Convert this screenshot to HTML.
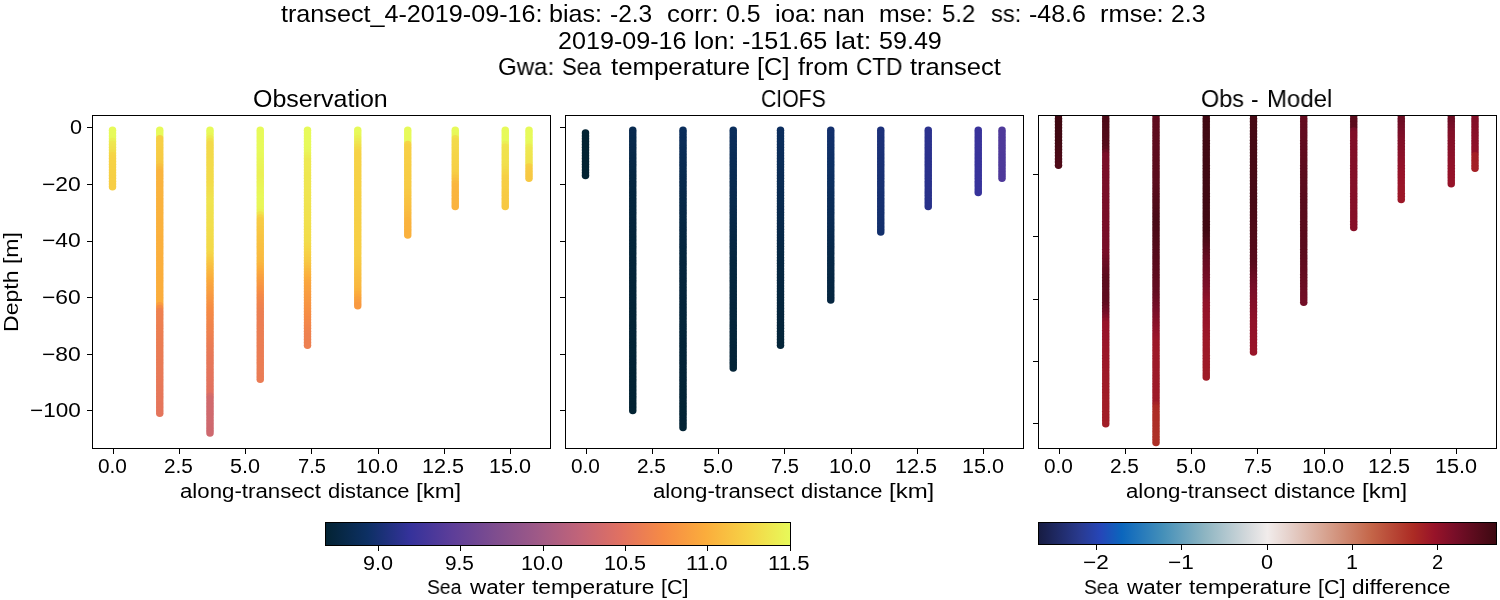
<!DOCTYPE html>
<html lang="en"><head><meta charset="utf-8"><title>transect_4-2019-09-16</title>
<style>
html,body{margin:0;padding:0;background:#fff;}
body{width:1500px;height:600px;position:relative;overflow:hidden;font-family:"Liberation Sans",sans-serif;color:#000;}
#g{position:absolute;left:0;top:0;}
.l{margin:0;height:0;font-size:0;}
.t{position:absolute;white-space:pre;line-height:1;transform-origin:0 0;margin:0;will-change:transform;}
.a{font-size:20px}.b{font-size:24.4px}
</style></head><body>
<svg id="g" width="1500" height="600" viewBox="0 0 1500 600">
<defs>
<linearGradient id="th" x1="0" x2="1" y1="0" y2="0"><stop offset="0.0000" stop-color="#032333"/><stop offset="0.0909" stop-color="#0d3064"/><stop offset="0.1818" stop-color="#35329b"/><stop offset="0.2727" stop-color="#5d3e99"/><stop offset="0.3636" stop-color="#7e4d8f"/><stop offset="0.4545" stop-color="#9e5987"/><stop offset="0.5455" stop-color="#c16479"/><stop offset="0.6364" stop-color="#e17161"/><stop offset="0.7273" stop-color="#f68b45"/><stop offset="0.8182" stop-color="#fbad3c"/><stop offset="0.9091" stop-color="#f6d346"/><stop offset="1.0000" stop-color="#e7fa5a"/></linearGradient>
<linearGradient id="ba" x1="0" x2="1" y1="0" y2="0"><stop offset="0.0000" stop-color="#171c42"/><stop offset="0.0909" stop-color="#293a8f"/><stop offset="0.1350" stop-color="#2646b8"/><stop offset="0.1818" stop-color="#0b66bd"/><stop offset="0.2727" stop-color="#4590b9"/><stop offset="0.3636" stop-color="#8eb5c2"/><stop offset="0.4545" stop-color="#d2d8db"/><stop offset="0.5000" stop-color="#f1eceb"/><stop offset="0.5455" stop-color="#e6d2cc"/><stop offset="0.6364" stop-color="#d59d89"/><stop offset="0.7273" stop-color="#c46548"/><stop offset="0.8182" stop-color="#ac2b24"/><stop offset="0.8640" stop-color="#981329"/><stop offset="0.9091" stop-color="#780e28"/><stop offset="1.0000" stop-color="#3c0911"/></linearGradient>
<clipPath id="c3"><rect x="1038.5" y="115.5" width="458" height="333"/></clipPath>
</defs>
<g>
<g transform="translate(112.50 0)"><circle r="3.75" cy="130.2" fill="#e7fa5a"/><circle r="3.75" cy="133.1" fill="#e7fa5a"/><circle r="3.75" cy="135.9" fill="#e7fa5a"/><circle r="3.75" cy="138.7" fill="#e7f95a"/><circle r="3.75" cy="141.6" fill="#ebef54"/><circle r="3.75" cy="144.4" fill="#eee750"/><circle r="3.75" cy="147.2" fill="#efe44f"/><circle r="3.75" cy="150.0" fill="#f0e14d"/><circle r="3.75" cy="152.9" fill="#f2dc4b"/><circle r="3.75" cy="155.7" fill="#f5d547"/><circle r="3.75" cy="158.5" fill="#f6d346"/><circle r="3.75" cy="161.4" fill="#f6d246"/><circle r="3.75" cy="164.2" fill="#f6d246"/><circle r="3.75" cy="167.0" fill="#f6d146"/><circle r="3.75" cy="169.9" fill="#f6d145"/><circle r="3.75" cy="172.7" fill="#f6d045"/><circle r="3.75" cy="175.5" fill="#f6d045"/><circle r="3.75" cy="178.3" fill="#f6cf45"/><circle r="3.75" cy="181.2" fill="#f7cf45"/><circle r="3.75" cy="184.0" fill="#f7ce45"/><circle r="3.75" cy="186.8" fill="#f7ce45"/></g>
<g transform="translate(159.75 0)"><circle r="3.75" cy="130.2" fill="#e7fa5a"/><circle r="3.75" cy="133.1" fill="#e7fa5a"/><circle r="3.75" cy="135.9" fill="#e7fa5a"/><circle r="3.75" cy="138.7" fill="#f6d045"/><circle r="3.75" cy="141.6" fill="#f6cf45"/><circle r="3.75" cy="144.4" fill="#f7cf45"/><circle r="3.75" cy="147.2" fill="#f7ce45"/><circle r="3.75" cy="150.0" fill="#f7cd44"/><circle r="3.75" cy="152.9" fill="#f7cc44"/><circle r="3.75" cy="155.7" fill="#f7cc44"/><circle r="3.75" cy="158.5" fill="#f7cb44"/><circle r="3.75" cy="161.4" fill="#f7ca44"/><circle r="3.75" cy="164.2" fill="#f7c843"/><circle r="3.75" cy="167.0" fill="#f8c041"/><circle r="3.75" cy="169.9" fill="#f9b93f"/><circle r="3.75" cy="172.7" fill="#fab43e"/><circle r="3.75" cy="175.5" fill="#fab43e"/><circle r="3.75" cy="178.3" fill="#fab43e"/><circle r="3.75" cy="181.2" fill="#fab43e"/><circle r="3.75" cy="184.0" fill="#fab33e"/><circle r="3.75" cy="186.8" fill="#fab33e"/><circle r="3.75" cy="189.7" fill="#fab33e"/><circle r="3.75" cy="192.5" fill="#fab33e"/><circle r="3.75" cy="195.3" fill="#fab33e"/><circle r="3.75" cy="198.2" fill="#fab33d"/><circle r="3.75" cy="201.0" fill="#fab23d"/><circle r="3.75" cy="203.8" fill="#fab23d"/><circle r="3.75" cy="206.6" fill="#fab23d"/><circle r="3.75" cy="209.5" fill="#fab23d"/><circle r="3.75" cy="212.3" fill="#fab23d"/><circle r="3.75" cy="215.1" fill="#fab23d"/><circle r="3.75" cy="218.0" fill="#fab23d"/><circle r="3.75" cy="220.8" fill="#fab13d"/><circle r="3.75" cy="223.6" fill="#fab13d"/><circle r="3.75" cy="226.4" fill="#fab13d"/><circle r="3.75" cy="229.3" fill="#fab13d"/><circle r="3.75" cy="232.1" fill="#fbb13d"/><circle r="3.75" cy="234.9" fill="#fbb13d"/><circle r="3.75" cy="237.8" fill="#fbb03d"/><circle r="3.75" cy="240.6" fill="#fbb03d"/><circle r="3.75" cy="243.4" fill="#fbb03d"/><circle r="3.75" cy="246.3" fill="#fbb03d"/><circle r="3.75" cy="249.1" fill="#fbb03d"/><circle r="3.75" cy="251.9" fill="#fbb03d"/><circle r="3.75" cy="254.8" fill="#fbb03d"/><circle r="3.75" cy="257.6" fill="#fbaf3d"/><circle r="3.75" cy="260.4" fill="#fbaf3d"/><circle r="3.75" cy="263.2" fill="#fbaf3d"/><circle r="3.75" cy="266.1" fill="#fbaf3d"/><circle r="3.75" cy="268.9" fill="#fbaf3c"/><circle r="3.75" cy="271.7" fill="#fbaf3c"/><circle r="3.75" cy="274.6" fill="#fbae3c"/><circle r="3.75" cy="277.4" fill="#fbae3c"/><circle r="3.75" cy="280.2" fill="#fbae3c"/><circle r="3.75" cy="283.1" fill="#fbae3c"/><circle r="3.75" cy="285.9" fill="#fbae3c"/><circle r="3.75" cy="288.7" fill="#fbae3c"/><circle r="3.75" cy="291.5" fill="#fbae3c"/><circle r="3.75" cy="294.4" fill="#fbad3c"/><circle r="3.75" cy="297.2" fill="#fbad3c"/><circle r="3.75" cy="300.0" fill="#fbad3c"/><circle r="3.75" cy="302.9" fill="#fbad3c"/><circle r="3.75" cy="305.7" fill="#f99c40"/><circle r="3.75" cy="308.5" fill="#f68c45"/><circle r="3.75" cy="311.4" fill="#ef824f"/><circle r="3.75" cy="314.2" fill="#ee8150"/><circle r="3.75" cy="317.0" fill="#ee8150"/><circle r="3.75" cy="319.8" fill="#ed8051"/><circle r="3.75" cy="322.7" fill="#ed8051"/><circle r="3.75" cy="325.5" fill="#ed8051"/><circle r="3.75" cy="328.3" fill="#ed7f52"/><circle r="3.75" cy="331.2" fill="#ec7f52"/><circle r="3.75" cy="334.0" fill="#ec7f52"/><circle r="3.75" cy="336.8" fill="#ec7e53"/><circle r="3.75" cy="339.6" fill="#eb7e53"/><circle r="3.75" cy="342.5" fill="#eb7e53"/><circle r="3.75" cy="345.3" fill="#eb7d54"/><circle r="3.75" cy="348.1" fill="#eb7d54"/><circle r="3.75" cy="351.0" fill="#ea7d54"/><circle r="3.75" cy="353.8" fill="#ea7c55"/><circle r="3.75" cy="356.6" fill="#ea7c55"/><circle r="3.75" cy="359.5" fill="#ea7c55"/><circle r="3.75" cy="362.3" fill="#e97b56"/><circle r="3.75" cy="365.1" fill="#e97b56"/><circle r="3.75" cy="368.0" fill="#e97b57"/><circle r="3.75" cy="370.8" fill="#e97a57"/><circle r="3.75" cy="373.6" fill="#e87a57"/><circle r="3.75" cy="376.4" fill="#e87a58"/><circle r="3.75" cy="379.3" fill="#e87958"/><circle r="3.75" cy="382.1" fill="#e87958"/><circle r="3.75" cy="384.9" fill="#e77959"/><circle r="3.75" cy="387.8" fill="#e77859"/><circle r="3.75" cy="390.6" fill="#e77859"/><circle r="3.75" cy="393.4" fill="#e6785a"/><circle r="3.75" cy="396.2" fill="#e6775a"/><circle r="3.75" cy="399.1" fill="#e6775a"/><circle r="3.75" cy="401.9" fill="#e6775b"/><circle r="3.75" cy="404.7" fill="#e5765b"/><circle r="3.75" cy="407.6" fill="#e5765c"/><circle r="3.75" cy="410.4" fill="#e5765c"/><circle r="3.75" cy="413.2" fill="#e4755c"/></g>
<g transform="translate(210.00 0)"><circle r="3.75" cy="130.2" fill="#e7fa5a"/><circle r="3.75" cy="133.1" fill="#e7fa5a"/><circle r="3.75" cy="135.9" fill="#e9f557"/><circle r="3.75" cy="138.7" fill="#edeb52"/><circle r="3.75" cy="141.6" fill="#f1e14d"/><circle r="3.75" cy="144.4" fill="#f3da4a"/><circle r="3.75" cy="147.2" fill="#f3da4a"/><circle r="3.75" cy="150.0" fill="#f3da4a"/><circle r="3.75" cy="152.9" fill="#f3da4a"/><circle r="3.75" cy="155.7" fill="#f3da4a"/><circle r="3.75" cy="158.5" fill="#f3da4a"/><circle r="3.75" cy="161.4" fill="#f3db4a"/><circle r="3.75" cy="164.2" fill="#f3db4a"/><circle r="3.75" cy="167.0" fill="#f3db4a"/><circle r="3.75" cy="169.9" fill="#f3db4a"/><circle r="3.75" cy="172.7" fill="#f3db4a"/><circle r="3.75" cy="175.5" fill="#f3db4a"/><circle r="3.75" cy="178.3" fill="#f3db4a"/><circle r="3.75" cy="181.2" fill="#f3db4a"/><circle r="3.75" cy="184.0" fill="#f3dc4a"/><circle r="3.75" cy="186.8" fill="#f2dd4b"/><circle r="3.75" cy="189.7" fill="#f2de4c"/><circle r="3.75" cy="192.5" fill="#f1df4c"/><circle r="3.75" cy="195.3" fill="#f1e04d"/><circle r="3.75" cy="198.2" fill="#f0e24d"/><circle r="3.75" cy="201.0" fill="#f0e34e"/><circle r="3.75" cy="203.8" fill="#f0e44f"/><circle r="3.75" cy="206.6" fill="#f0e34e"/><circle r="3.75" cy="209.5" fill="#f0e24e"/><circle r="3.75" cy="212.3" fill="#f0e24e"/><circle r="3.75" cy="215.1" fill="#f1e14d"/><circle r="3.75" cy="218.0" fill="#f1e04d"/><circle r="3.75" cy="220.8" fill="#f1e04d"/><circle r="3.75" cy="223.6" fill="#f1df4c"/><circle r="3.75" cy="226.4" fill="#f2df4c"/><circle r="3.75" cy="229.3" fill="#f2de4c"/><circle r="3.75" cy="232.1" fill="#f2dd4b"/><circle r="3.75" cy="234.9" fill="#f2dd4b"/><circle r="3.75" cy="237.8" fill="#f3dc4b"/><circle r="3.75" cy="240.6" fill="#f3db4a"/><circle r="3.75" cy="243.4" fill="#f3db4a"/><circle r="3.75" cy="246.3" fill="#f3da4a"/><circle r="3.75" cy="249.1" fill="#f3da49"/><circle r="3.75" cy="251.9" fill="#f4d949"/><circle r="3.75" cy="254.8" fill="#f5d648"/><circle r="3.75" cy="257.6" fill="#f6d146"/><circle r="3.75" cy="260.4" fill="#f7cc44"/><circle r="3.75" cy="263.2" fill="#f8c743"/><circle r="3.75" cy="266.1" fill="#f8c242"/><circle r="3.75" cy="268.9" fill="#f9bd40"/><circle r="3.75" cy="271.7" fill="#f9b93f"/><circle r="3.75" cy="274.6" fill="#fab53e"/><circle r="3.75" cy="277.4" fill="#fab13d"/><circle r="3.75" cy="280.2" fill="#fbad3c"/><circle r="3.75" cy="283.1" fill="#faa93d"/><circle r="3.75" cy="285.9" fill="#faa53e"/><circle r="3.75" cy="288.7" fill="#f9a23f"/><circle r="3.75" cy="291.5" fill="#f9a040"/><circle r="3.75" cy="294.4" fill="#f99d40"/><circle r="3.75" cy="297.2" fill="#f89a41"/><circle r="3.75" cy="300.0" fill="#f89742"/><circle r="3.75" cy="302.9" fill="#f79443"/><circle r="3.75" cy="305.7" fill="#f79143"/><circle r="3.75" cy="308.5" fill="#f68e44"/><circle r="3.75" cy="311.4" fill="#f68b45"/><circle r="3.75" cy="314.2" fill="#f58a46"/><circle r="3.75" cy="317.0" fill="#f48947"/><circle r="3.75" cy="319.8" fill="#f38849"/><circle r="3.75" cy="322.7" fill="#f2864a"/><circle r="3.75" cy="325.5" fill="#f1854b"/><circle r="3.75" cy="328.3" fill="#f0844c"/><circle r="3.75" cy="331.2" fill="#f0834e"/><circle r="3.75" cy="334.0" fill="#ef824f"/><circle r="3.75" cy="336.8" fill="#ee8150"/><circle r="3.75" cy="339.6" fill="#ed7f51"/><circle r="3.75" cy="342.5" fill="#ec7e53"/><circle r="3.75" cy="345.3" fill="#eb7d54"/><circle r="3.75" cy="348.1" fill="#ea7c55"/><circle r="3.75" cy="351.0" fill="#e97b56"/><circle r="3.75" cy="353.8" fill="#e87a58"/><circle r="3.75" cy="356.6" fill="#e87958"/><circle r="3.75" cy="359.5" fill="#e77859"/><circle r="3.75" cy="362.3" fill="#e7785a"/><circle r="3.75" cy="365.1" fill="#e6775a"/><circle r="3.75" cy="368.0" fill="#e6775b"/><circle r="3.75" cy="370.8" fill="#e5765c"/><circle r="3.75" cy="373.6" fill="#e5755c"/><circle r="3.75" cy="376.4" fill="#e4755d"/><circle r="3.75" cy="379.3" fill="#e4745e"/><circle r="3.75" cy="382.1" fill="#e3745e"/><circle r="3.75" cy="384.9" fill="#e3735f"/><circle r="3.75" cy="387.8" fill="#e2725f"/><circle r="3.75" cy="390.6" fill="#e27260"/><circle r="3.75" cy="393.4" fill="#e17161"/><circle r="3.75" cy="396.2" fill="#d66d69"/><circle r="3.75" cy="399.1" fill="#d16a6d"/><circle r="3.75" cy="401.9" fill="#d16a6d"/><circle r="3.75" cy="404.7" fill="#d06a6d"/><circle r="3.75" cy="407.6" fill="#d06a6e"/><circle r="3.75" cy="410.4" fill="#d06a6e"/><circle r="3.75" cy="413.2" fill="#d06a6e"/><circle r="3.75" cy="416.1" fill="#cf6a6e"/><circle r="3.75" cy="418.9" fill="#cf6a6e"/><circle r="3.75" cy="421.7" fill="#cf6a6f"/><circle r="3.75" cy="424.6" fill="#cf6a6f"/><circle r="3.75" cy="427.4" fill="#ce696f"/><circle r="3.75" cy="430.2" fill="#ce696f"/><circle r="3.75" cy="433.0" fill="#ce696f"/></g>
<g transform="translate(260.25 0)"><circle r="3.75" cy="130.2" fill="#e7fa5a"/><circle r="3.75" cy="133.1" fill="#e7fa5a"/><circle r="3.75" cy="135.9" fill="#e7fa5a"/><circle r="3.75" cy="138.7" fill="#e7fa5a"/><circle r="3.75" cy="141.6" fill="#e7fa5a"/><circle r="3.75" cy="144.4" fill="#e7fa5a"/><circle r="3.75" cy="147.2" fill="#e7fa5a"/><circle r="3.75" cy="150.0" fill="#e7fa5a"/><circle r="3.75" cy="152.9" fill="#e7fa5a"/><circle r="3.75" cy="155.7" fill="#e7f959"/><circle r="3.75" cy="158.5" fill="#e8f859"/><circle r="3.75" cy="161.4" fill="#e8f658"/><circle r="3.75" cy="164.2" fill="#e9f558"/><circle r="3.75" cy="167.0" fill="#e9f457"/><circle r="3.75" cy="169.9" fill="#eaf356"/><circle r="3.75" cy="172.7" fill="#eaf156"/><circle r="3.75" cy="175.5" fill="#ebf055"/><circle r="3.75" cy="178.3" fill="#eaf155"/><circle r="3.75" cy="181.2" fill="#eaf256"/><circle r="3.75" cy="184.0" fill="#eaf356"/><circle r="3.75" cy="186.8" fill="#e9f457"/><circle r="3.75" cy="189.7" fill="#e9f557"/><circle r="3.75" cy="192.5" fill="#e9f658"/><circle r="3.75" cy="195.3" fill="#e8f758"/><circle r="3.75" cy="198.2" fill="#e8f859"/><circle r="3.75" cy="201.0" fill="#e8f759"/><circle r="3.75" cy="203.8" fill="#e8f758"/><circle r="3.75" cy="206.6" fill="#e9f658"/><circle r="3.75" cy="209.5" fill="#e9f558"/><circle r="3.75" cy="212.3" fill="#ebf155"/><circle r="3.75" cy="215.1" fill="#f0e34e"/><circle r="3.75" cy="218.0" fill="#f6d447"/><circle r="3.75" cy="220.8" fill="#f7cc44"/><circle r="3.75" cy="223.6" fill="#f7cb44"/><circle r="3.75" cy="226.4" fill="#f7ca44"/><circle r="3.75" cy="229.3" fill="#f7c843"/><circle r="3.75" cy="232.1" fill="#f8c743"/><circle r="3.75" cy="234.9" fill="#f8c642"/><circle r="3.75" cy="237.8" fill="#f8c442"/><circle r="3.75" cy="240.6" fill="#f8c342"/><circle r="3.75" cy="243.4" fill="#f8c241"/><circle r="3.75" cy="246.3" fill="#f8c041"/><circle r="3.75" cy="249.1" fill="#f9bf41"/><circle r="3.75" cy="251.9" fill="#f9be40"/><circle r="3.75" cy="254.8" fill="#f9bd40"/><circle r="3.75" cy="257.6" fill="#f9bb40"/><circle r="3.75" cy="260.4" fill="#f9ba3f"/><circle r="3.75" cy="263.2" fill="#f9b93f"/><circle r="3.75" cy="266.1" fill="#fab43e"/><circle r="3.75" cy="268.9" fill="#fbaf3d"/><circle r="3.75" cy="271.7" fill="#fbab3d"/><circle r="3.75" cy="274.6" fill="#faa73e"/><circle r="3.75" cy="277.4" fill="#f9a23f"/><circle r="3.75" cy="280.2" fill="#f99e40"/><circle r="3.75" cy="283.1" fill="#f89b41"/><circle r="3.75" cy="285.9" fill="#f89742"/><circle r="3.75" cy="288.7" fill="#f79343"/><circle r="3.75" cy="291.5" fill="#f79044"/><circle r="3.75" cy="294.4" fill="#f68c45"/><circle r="3.75" cy="297.2" fill="#f48947"/><circle r="3.75" cy="300.0" fill="#f2874a"/><circle r="3.75" cy="302.9" fill="#f1854c"/><circle r="3.75" cy="305.7" fill="#f0834d"/><circle r="3.75" cy="308.5" fill="#ee824f"/><circle r="3.75" cy="311.4" fill="#ed8051"/><circle r="3.75" cy="314.2" fill="#ec7f52"/><circle r="3.75" cy="317.0" fill="#ec7f52"/><circle r="3.75" cy="319.8" fill="#ec7e53"/><circle r="3.75" cy="322.7" fill="#ec7e53"/><circle r="3.75" cy="325.5" fill="#ec7e53"/><circle r="3.75" cy="328.3" fill="#ec7e53"/><circle r="3.75" cy="331.2" fill="#ec7e53"/><circle r="3.75" cy="334.0" fill="#eb7e53"/><circle r="3.75" cy="336.8" fill="#eb7e53"/><circle r="3.75" cy="339.6" fill="#eb7e53"/><circle r="3.75" cy="342.5" fill="#eb7e53"/><circle r="3.75" cy="345.3" fill="#eb7e54"/><circle r="3.75" cy="348.1" fill="#eb7d54"/><circle r="3.75" cy="351.0" fill="#eb7d54"/><circle r="3.75" cy="353.8" fill="#eb7d54"/><circle r="3.75" cy="356.6" fill="#eb7d54"/><circle r="3.75" cy="359.5" fill="#eb7d54"/><circle r="3.75" cy="362.3" fill="#eb7d54"/><circle r="3.75" cy="365.1" fill="#eb7d54"/><circle r="3.75" cy="368.0" fill="#ea7d54"/><circle r="3.75" cy="370.8" fill="#ea7d55"/><circle r="3.75" cy="373.6" fill="#ea7d55"/><circle r="3.75" cy="376.4" fill="#ea7c55"/><circle r="3.75" cy="379.3" fill="#ea7c55"/></g>
<g transform="translate(307.50 0)"><circle r="3.75" cy="130.2" fill="#e7fa5a"/><circle r="3.75" cy="133.1" fill="#e7fa5a"/><circle r="3.75" cy="135.9" fill="#e7fa5a"/><circle r="3.75" cy="138.7" fill="#e7fa5a"/><circle r="3.75" cy="141.6" fill="#e7fa5a"/><circle r="3.75" cy="144.4" fill="#e7fa5a"/><circle r="3.75" cy="147.2" fill="#e7fa5a"/><circle r="3.75" cy="150.0" fill="#e7f95a"/><circle r="3.75" cy="152.9" fill="#e9f558"/><circle r="3.75" cy="155.7" fill="#eaf156"/><circle r="3.75" cy="158.5" fill="#eced54"/><circle r="3.75" cy="161.4" fill="#ede952"/><circle r="3.75" cy="164.2" fill="#eee951"/><circle r="3.75" cy="167.0" fill="#eee951"/><circle r="3.75" cy="169.9" fill="#eee851"/><circle r="3.75" cy="172.7" fill="#eee851"/><circle r="3.75" cy="175.5" fill="#eee750"/><circle r="3.75" cy="178.3" fill="#eee750"/><circle r="3.75" cy="181.2" fill="#eee750"/><circle r="3.75" cy="184.0" fill="#efe650"/><circle r="3.75" cy="186.8" fill="#efe650"/><circle r="3.75" cy="189.7" fill="#efe650"/><circle r="3.75" cy="192.5" fill="#efe54f"/><circle r="3.75" cy="195.3" fill="#efe54f"/><circle r="3.75" cy="198.2" fill="#efe44f"/><circle r="3.75" cy="201.0" fill="#efe44f"/><circle r="3.75" cy="203.8" fill="#f0e44f"/><circle r="3.75" cy="206.6" fill="#f0e34e"/><circle r="3.75" cy="209.5" fill="#f0e34e"/><circle r="3.75" cy="212.3" fill="#f0e24e"/><circle r="3.75" cy="215.1" fill="#f0e24d"/><circle r="3.75" cy="218.0" fill="#f1e14d"/><circle r="3.75" cy="220.8" fill="#f1e14d"/><circle r="3.75" cy="223.6" fill="#f1e04d"/><circle r="3.75" cy="226.4" fill="#f1e04c"/><circle r="3.75" cy="229.3" fill="#f1df4c"/><circle r="3.75" cy="232.1" fill="#f2de4c"/><circle r="3.75" cy="234.9" fill="#f2de4c"/><circle r="3.75" cy="237.8" fill="#f2dd4b"/><circle r="3.75" cy="240.6" fill="#f2dd4b"/><circle r="3.75" cy="243.4" fill="#f2dc4b"/><circle r="3.75" cy="246.3" fill="#f4d949"/><circle r="3.75" cy="249.1" fill="#f5d748"/><circle r="3.75" cy="251.9" fill="#f6d446"/><circle r="3.75" cy="254.8" fill="#f6d145"/><circle r="3.75" cy="257.6" fill="#f7ce45"/><circle r="3.75" cy="260.4" fill="#f7cb44"/><circle r="3.75" cy="263.2" fill="#f7c843"/><circle r="3.75" cy="266.1" fill="#f8c342"/><circle r="3.75" cy="268.9" fill="#f9be41"/><circle r="3.75" cy="271.7" fill="#f9b93f"/><circle r="3.75" cy="274.6" fill="#fab43e"/><circle r="3.75" cy="277.4" fill="#fbb03d"/><circle r="3.75" cy="280.2" fill="#fbab3d"/><circle r="3.75" cy="283.1" fill="#faa73e"/><circle r="3.75" cy="285.9" fill="#faa43e"/><circle r="3.75" cy="288.7" fill="#f9a23f"/><circle r="3.75" cy="291.5" fill="#f9a040"/><circle r="3.75" cy="294.4" fill="#f99d40"/><circle r="3.75" cy="297.2" fill="#f89b41"/><circle r="3.75" cy="300.0" fill="#f89941"/><circle r="3.75" cy="302.9" fill="#f89742"/><circle r="3.75" cy="305.7" fill="#f79542"/><circle r="3.75" cy="308.5" fill="#f79343"/><circle r="3.75" cy="311.4" fill="#f79044"/><circle r="3.75" cy="314.2" fill="#f68e44"/><circle r="3.75" cy="317.0" fill="#f68c45"/><circle r="3.75" cy="319.8" fill="#f58a46"/><circle r="3.75" cy="322.7" fill="#f48848"/><circle r="3.75" cy="325.5" fill="#f3874a"/><circle r="3.75" cy="328.3" fill="#f1854b"/><circle r="3.75" cy="331.2" fill="#f0834d"/><circle r="3.75" cy="334.0" fill="#ef824f"/><circle r="3.75" cy="336.8" fill="#ee814f"/><circle r="3.75" cy="339.6" fill="#ee8150"/><circle r="3.75" cy="342.5" fill="#ed8050"/><circle r="3.75" cy="345.3" fill="#ed8051"/></g>
<g transform="translate(357.75 0)"><circle r="3.75" cy="130.2" fill="#e7fa5a"/><circle r="3.75" cy="133.1" fill="#e7fa5a"/><circle r="3.75" cy="135.9" fill="#e8f759"/><circle r="3.75" cy="138.7" fill="#eaf155"/><circle r="3.75" cy="141.6" fill="#edeb52"/><circle r="3.75" cy="144.4" fill="#efe54f"/><circle r="3.75" cy="147.2" fill="#f1df4c"/><circle r="3.75" cy="150.0" fill="#f4d949"/><circle r="3.75" cy="152.9" fill="#f6d346"/><circle r="3.75" cy="155.7" fill="#f6d246"/><circle r="3.75" cy="158.5" fill="#f6d246"/><circle r="3.75" cy="161.4" fill="#f6d246"/><circle r="3.75" cy="164.2" fill="#f6d246"/><circle r="3.75" cy="167.0" fill="#f6d246"/><circle r="3.75" cy="169.9" fill="#f6d146"/><circle r="3.75" cy="172.7" fill="#f6d146"/><circle r="3.75" cy="175.5" fill="#f6d146"/><circle r="3.75" cy="178.3" fill="#f6d146"/><circle r="3.75" cy="181.2" fill="#f6d145"/><circle r="3.75" cy="184.0" fill="#f6d145"/><circle r="3.75" cy="186.8" fill="#f6d145"/><circle r="3.75" cy="189.7" fill="#f6d145"/><circle r="3.75" cy="192.5" fill="#f6d145"/><circle r="3.75" cy="195.3" fill="#f6d045"/><circle r="3.75" cy="198.2" fill="#f6d045"/><circle r="3.75" cy="201.0" fill="#f6d045"/><circle r="3.75" cy="203.8" fill="#f6d045"/><circle r="3.75" cy="206.6" fill="#f6d045"/><circle r="3.75" cy="209.5" fill="#f6d045"/><circle r="3.75" cy="212.3" fill="#f6d045"/><circle r="3.75" cy="215.1" fill="#f6d045"/><circle r="3.75" cy="218.0" fill="#f6d045"/><circle r="3.75" cy="220.8" fill="#f6cf45"/><circle r="3.75" cy="223.6" fill="#f6cf45"/><circle r="3.75" cy="226.4" fill="#f7cf45"/><circle r="3.75" cy="229.3" fill="#f7cf45"/><circle r="3.75" cy="232.1" fill="#f7cf45"/><circle r="3.75" cy="234.9" fill="#f7cf45"/><circle r="3.75" cy="237.8" fill="#f7cf45"/><circle r="3.75" cy="240.6" fill="#f7cf45"/><circle r="3.75" cy="243.4" fill="#f7ce45"/><circle r="3.75" cy="246.3" fill="#f7ce45"/><circle r="3.75" cy="249.1" fill="#f7ce45"/><circle r="3.75" cy="251.9" fill="#f7ce45"/><circle r="3.75" cy="254.8" fill="#f7ce45"/><circle r="3.75" cy="257.6" fill="#f7cd44"/><circle r="3.75" cy="260.4" fill="#f7cb44"/><circle r="3.75" cy="263.2" fill="#f7c943"/><circle r="3.75" cy="266.1" fill="#f8c743"/><circle r="3.75" cy="268.9" fill="#f8c542"/><circle r="3.75" cy="271.7" fill="#f8c342"/><circle r="3.75" cy="274.6" fill="#f8c141"/><circle r="3.75" cy="277.4" fill="#f9bf41"/><circle r="3.75" cy="280.2" fill="#f9bd40"/><circle r="3.75" cy="283.1" fill="#f9bb40"/><circle r="3.75" cy="285.9" fill="#f9b93f"/><circle r="3.75" cy="288.7" fill="#fab73f"/><circle r="3.75" cy="291.5" fill="#fab33e"/><circle r="3.75" cy="294.4" fill="#fbad3c"/><circle r="3.75" cy="297.2" fill="#faa83d"/><circle r="3.75" cy="300.0" fill="#f9a23f"/><circle r="3.75" cy="302.9" fill="#f99d40"/><circle r="3.75" cy="305.7" fill="#f89941"/></g>
<g transform="translate(407.75 0)"><circle r="3.75" cy="130.2" fill="#e7fa5a"/><circle r="3.75" cy="133.1" fill="#e7fa5a"/><circle r="3.75" cy="135.9" fill="#e7fa5a"/><circle r="3.75" cy="138.7" fill="#e7fa5a"/><circle r="3.75" cy="141.6" fill="#e7fa5a"/><circle r="3.75" cy="144.4" fill="#f5d547"/><circle r="3.75" cy="147.2" fill="#f6d045"/><circle r="3.75" cy="150.0" fill="#f6cf45"/><circle r="3.75" cy="152.9" fill="#f7cf45"/><circle r="3.75" cy="155.7" fill="#f7cf45"/><circle r="3.75" cy="158.5" fill="#f7ce45"/><circle r="3.75" cy="161.4" fill="#f7ce45"/><circle r="3.75" cy="164.2" fill="#f7ce45"/><circle r="3.75" cy="167.0" fill="#f7cd44"/><circle r="3.75" cy="169.9" fill="#f7cd44"/><circle r="3.75" cy="172.7" fill="#f7cd44"/><circle r="3.75" cy="175.5" fill="#f7cc44"/><circle r="3.75" cy="178.3" fill="#f7cc44"/><circle r="3.75" cy="181.2" fill="#f7cc44"/><circle r="3.75" cy="184.0" fill="#f7cb44"/><circle r="3.75" cy="186.8" fill="#f7cb44"/><circle r="3.75" cy="189.7" fill="#f7ca44"/><circle r="3.75" cy="192.5" fill="#f7c843"/><circle r="3.75" cy="195.3" fill="#f8c743"/><circle r="3.75" cy="198.2" fill="#f8c542"/><circle r="3.75" cy="201.0" fill="#f8c342"/><circle r="3.75" cy="203.8" fill="#f8c241"/><circle r="3.75" cy="206.6" fill="#f9c041"/><circle r="3.75" cy="209.5" fill="#f9be41"/><circle r="3.75" cy="212.3" fill="#f9bd40"/><circle r="3.75" cy="215.1" fill="#f9ba40"/><circle r="3.75" cy="218.0" fill="#fab83f"/><circle r="3.75" cy="220.8" fill="#fab53e"/><circle r="3.75" cy="223.6" fill="#fab23d"/><circle r="3.75" cy="226.4" fill="#fab23d"/><circle r="3.75" cy="229.3" fill="#fab23d"/><circle r="3.75" cy="232.1" fill="#fab13d"/><circle r="3.75" cy="234.9" fill="#fab13d"/></g>
<g transform="translate(455.25 0)"><circle r="3.75" cy="130.2" fill="#e7fa5a"/><circle r="3.75" cy="133.1" fill="#e7fa5a"/><circle r="3.75" cy="135.9" fill="#e8f758"/><circle r="3.75" cy="138.7" fill="#f0e14d"/><circle r="3.75" cy="141.6" fill="#f3db4a"/><circle r="3.75" cy="144.4" fill="#f3da49"/><circle r="3.75" cy="147.2" fill="#f4d949"/><circle r="3.75" cy="150.0" fill="#f4d848"/><circle r="3.75" cy="152.9" fill="#f5d648"/><circle r="3.75" cy="155.7" fill="#f5d547"/><circle r="3.75" cy="158.5" fill="#f5d447"/><circle r="3.75" cy="161.4" fill="#f6d346"/><circle r="3.75" cy="164.2" fill="#f6d246"/><circle r="3.75" cy="167.0" fill="#f6d146"/><circle r="3.75" cy="169.9" fill="#f6d045"/><circle r="3.75" cy="172.7" fill="#f7cf45"/><circle r="3.75" cy="175.5" fill="#f7cb44"/><circle r="3.75" cy="178.3" fill="#f8c542"/><circle r="3.75" cy="181.2" fill="#f9bf41"/><circle r="3.75" cy="184.0" fill="#f9b93f"/><circle r="3.75" cy="186.8" fill="#fab63e"/><circle r="3.75" cy="189.7" fill="#fab53e"/><circle r="3.75" cy="192.5" fill="#fab53e"/><circle r="3.75" cy="195.3" fill="#fab53e"/><circle r="3.75" cy="198.2" fill="#fab43e"/><circle r="3.75" cy="201.0" fill="#fab43e"/><circle r="3.75" cy="203.8" fill="#fab43e"/><circle r="3.75" cy="206.6" fill="#fab33e"/></g>
<g transform="translate(505.25 0)"><circle r="3.75" cy="130.2" fill="#e7fa5a"/><circle r="3.75" cy="133.1" fill="#e7fa5a"/><circle r="3.75" cy="135.9" fill="#e7fa5a"/><circle r="3.75" cy="138.7" fill="#e7fa5a"/><circle r="3.75" cy="141.6" fill="#e7fa5a"/><circle r="3.75" cy="144.4" fill="#ebf055"/><circle r="3.75" cy="147.2" fill="#f0e44e"/><circle r="3.75" cy="150.0" fill="#f0e34e"/><circle r="3.75" cy="152.9" fill="#f0e24e"/><circle r="3.75" cy="155.7" fill="#f0e24e"/><circle r="3.75" cy="158.5" fill="#f1e14d"/><circle r="3.75" cy="161.4" fill="#f1e14d"/><circle r="3.75" cy="164.2" fill="#f1e04d"/><circle r="3.75" cy="167.0" fill="#f2de4c"/><circle r="3.75" cy="169.9" fill="#f3db4a"/><circle r="3.75" cy="172.7" fill="#f4d748"/><circle r="3.75" cy="175.5" fill="#f6d446"/><circle r="3.75" cy="178.3" fill="#f6d045"/><circle r="3.75" cy="181.2" fill="#f6cf45"/><circle r="3.75" cy="184.0" fill="#f7ce45"/><circle r="3.75" cy="186.8" fill="#f7ce45"/><circle r="3.75" cy="189.7" fill="#f7cd44"/><circle r="3.75" cy="192.5" fill="#f7cc44"/><circle r="3.75" cy="195.3" fill="#f7cb44"/><circle r="3.75" cy="198.2" fill="#f7ca44"/><circle r="3.75" cy="201.0" fill="#f7ca44"/><circle r="3.75" cy="203.8" fill="#f7c943"/><circle r="3.75" cy="206.6" fill="#f7c843"/></g>
<g transform="translate(529.00 0)"><circle r="3.75" cy="130.2" fill="#e7fa5a"/><circle r="3.75" cy="133.1" fill="#e7fa5a"/><circle r="3.75" cy="135.9" fill="#e7fa5a"/><circle r="3.75" cy="138.7" fill="#e7fa5a"/><circle r="3.75" cy="141.6" fill="#e7fa5a"/><circle r="3.75" cy="144.4" fill="#e8f758"/><circle r="3.75" cy="147.2" fill="#eced53"/><circle r="3.75" cy="150.0" fill="#eee851"/><circle r="3.75" cy="152.9" fill="#eee750"/><circle r="3.75" cy="155.7" fill="#efe64f"/><circle r="3.75" cy="158.5" fill="#efe44f"/><circle r="3.75" cy="161.4" fill="#f0e34e"/><circle r="3.75" cy="164.2" fill="#f0e24e"/><circle r="3.75" cy="167.0" fill="#f6cf45"/><circle r="3.75" cy="169.9" fill="#f7cb44"/><circle r="3.75" cy="172.7" fill="#f7ca44"/><circle r="3.75" cy="175.5" fill="#f7c943"/><circle r="3.75" cy="178.3" fill="#f7c843"/></g>
</g>
<g>
<g transform="translate(585.50 0)"><circle r="3.75" cy="133.1" fill="#032333"/><circle r="3.75" cy="135.9" fill="#032333"/><circle r="3.75" cy="138.7" fill="#032333"/><circle r="3.75" cy="141.6" fill="#032333"/><circle r="3.75" cy="144.4" fill="#032333"/><circle r="3.75" cy="147.2" fill="#032333"/><circle r="3.75" cy="150.0" fill="#032333"/><circle r="3.75" cy="152.9" fill="#032333"/><circle r="3.75" cy="155.7" fill="#032333"/><circle r="3.75" cy="158.5" fill="#032333"/><circle r="3.75" cy="161.4" fill="#032333"/><circle r="3.75" cy="164.2" fill="#032333"/><circle r="3.75" cy="167.0" fill="#032333"/><circle r="3.75" cy="169.9" fill="#032333"/><circle r="3.75" cy="172.7" fill="#032333"/><circle r="3.75" cy="175.5" fill="#032333"/></g>
<g transform="translate(632.75 0)"><circle r="3.75" cy="130.2" fill="#092b50"/><circle r="3.75" cy="133.1" fill="#092a4f"/><circle r="3.75" cy="135.9" fill="#092a4e"/><circle r="3.75" cy="138.7" fill="#082a4d"/><circle r="3.75" cy="141.6" fill="#082a4c"/><circle r="3.75" cy="144.4" fill="#082a4c"/><circle r="3.75" cy="147.2" fill="#08294b"/><circle r="3.75" cy="150.0" fill="#08294a"/><circle r="3.75" cy="152.9" fill="#082949"/><circle r="3.75" cy="155.7" fill="#072948"/><circle r="3.75" cy="158.5" fill="#072847"/><circle r="3.75" cy="161.4" fill="#072847"/><circle r="3.75" cy="164.2" fill="#072846"/><circle r="3.75" cy="167.0" fill="#072845"/><circle r="3.75" cy="169.9" fill="#062844"/><circle r="3.75" cy="172.7" fill="#062743"/><circle r="3.75" cy="175.5" fill="#062742"/><circle r="3.75" cy="178.3" fill="#062741"/><circle r="3.75" cy="181.2" fill="#062741"/><circle r="3.75" cy="184.0" fill="#062640"/><circle r="3.75" cy="186.8" fill="#062640"/><circle r="3.75" cy="189.7" fill="#06263f"/><circle r="3.75" cy="192.5" fill="#05263f"/><circle r="3.75" cy="195.3" fill="#05263f"/><circle r="3.75" cy="198.2" fill="#05263e"/><circle r="3.75" cy="201.0" fill="#05263e"/><circle r="3.75" cy="203.8" fill="#05263e"/><circle r="3.75" cy="206.6" fill="#05263e"/><circle r="3.75" cy="209.5" fill="#05263d"/><circle r="3.75" cy="212.3" fill="#05263d"/><circle r="3.75" cy="215.1" fill="#05263d"/><circle r="3.75" cy="218.0" fill="#05263c"/><circle r="3.75" cy="220.8" fill="#05253c"/><circle r="3.75" cy="223.6" fill="#05253c"/><circle r="3.75" cy="226.4" fill="#05253c"/><circle r="3.75" cy="229.3" fill="#05253b"/><circle r="3.75" cy="232.1" fill="#05253b"/><circle r="3.75" cy="234.9" fill="#05253b"/><circle r="3.75" cy="237.8" fill="#05253a"/><circle r="3.75" cy="240.6" fill="#04253a"/><circle r="3.75" cy="243.4" fill="#04253a"/><circle r="3.75" cy="246.3" fill="#04253a"/><circle r="3.75" cy="249.1" fill="#042539"/><circle r="3.75" cy="251.9" fill="#042539"/><circle r="3.75" cy="254.8" fill="#042539"/><circle r="3.75" cy="257.6" fill="#042438"/><circle r="3.75" cy="260.4" fill="#042438"/><circle r="3.75" cy="263.2" fill="#042438"/><circle r="3.75" cy="266.1" fill="#042438"/><circle r="3.75" cy="268.9" fill="#042438"/><circle r="3.75" cy="271.7" fill="#042438"/><circle r="3.75" cy="274.6" fill="#042438"/><circle r="3.75" cy="277.4" fill="#042437"/><circle r="3.75" cy="280.2" fill="#042437"/><circle r="3.75" cy="283.1" fill="#042437"/><circle r="3.75" cy="285.9" fill="#042437"/><circle r="3.75" cy="288.7" fill="#042437"/><circle r="3.75" cy="291.5" fill="#042437"/><circle r="3.75" cy="294.4" fill="#042437"/><circle r="3.75" cy="297.2" fill="#042437"/><circle r="3.75" cy="300.0" fill="#042437"/><circle r="3.75" cy="302.9" fill="#042437"/><circle r="3.75" cy="305.7" fill="#042437"/><circle r="3.75" cy="308.5" fill="#042436"/><circle r="3.75" cy="311.4" fill="#042436"/><circle r="3.75" cy="314.2" fill="#042436"/><circle r="3.75" cy="317.0" fill="#042436"/><circle r="3.75" cy="319.8" fill="#042436"/><circle r="3.75" cy="322.7" fill="#042436"/><circle r="3.75" cy="325.5" fill="#042436"/><circle r="3.75" cy="328.3" fill="#042436"/><circle r="3.75" cy="331.2" fill="#042436"/><circle r="3.75" cy="334.0" fill="#042436"/><circle r="3.75" cy="336.8" fill="#042436"/><circle r="3.75" cy="339.6" fill="#042435"/><circle r="3.75" cy="342.5" fill="#032435"/><circle r="3.75" cy="345.3" fill="#032435"/><circle r="3.75" cy="348.1" fill="#032435"/><circle r="3.75" cy="351.0" fill="#032435"/><circle r="3.75" cy="353.8" fill="#032435"/><circle r="3.75" cy="356.6" fill="#032435"/><circle r="3.75" cy="359.5" fill="#032335"/><circle r="3.75" cy="362.3" fill="#032335"/><circle r="3.75" cy="365.1" fill="#032335"/><circle r="3.75" cy="368.0" fill="#032335"/><circle r="3.75" cy="370.8" fill="#032334"/><circle r="3.75" cy="373.6" fill="#032334"/><circle r="3.75" cy="376.4" fill="#032334"/><circle r="3.75" cy="379.3" fill="#032334"/><circle r="3.75" cy="382.1" fill="#032334"/><circle r="3.75" cy="384.9" fill="#032334"/><circle r="3.75" cy="387.8" fill="#032334"/><circle r="3.75" cy="390.6" fill="#032334"/><circle r="3.75" cy="393.4" fill="#032334"/><circle r="3.75" cy="396.2" fill="#032334"/><circle r="3.75" cy="399.1" fill="#032334"/><circle r="3.75" cy="401.9" fill="#032333"/><circle r="3.75" cy="404.7" fill="#032333"/><circle r="3.75" cy="407.6" fill="#032333"/><circle r="3.75" cy="410.4" fill="#032333"/></g>
<g transform="translate(683.00 0)"><circle r="3.75" cy="130.2" fill="#0b2e5c"/><circle r="3.75" cy="133.1" fill="#0b2e5b"/><circle r="3.75" cy="135.9" fill="#0b2d5a"/><circle r="3.75" cy="138.7" fill="#0b2d59"/><circle r="3.75" cy="141.6" fill="#0b2d59"/><circle r="3.75" cy="144.4" fill="#0b2d58"/><circle r="3.75" cy="147.2" fill="#0a2d57"/><circle r="3.75" cy="150.0" fill="#0a2c56"/><circle r="3.75" cy="152.9" fill="#0a2c56"/><circle r="3.75" cy="155.7" fill="#0a2c55"/><circle r="3.75" cy="158.5" fill="#0a2c54"/><circle r="3.75" cy="161.4" fill="#0a2c53"/><circle r="3.75" cy="164.2" fill="#092b53"/><circle r="3.75" cy="167.0" fill="#092b52"/><circle r="3.75" cy="169.9" fill="#092b51"/><circle r="3.75" cy="172.7" fill="#092b50"/><circle r="3.75" cy="175.5" fill="#092b50"/><circle r="3.75" cy="178.3" fill="#092a4f"/><circle r="3.75" cy="181.2" fill="#092a4e"/><circle r="3.75" cy="184.0" fill="#082a4d"/><circle r="3.75" cy="186.8" fill="#082a4d"/><circle r="3.75" cy="189.7" fill="#082a4c"/><circle r="3.75" cy="192.5" fill="#08294b"/><circle r="3.75" cy="195.3" fill="#08294a"/><circle r="3.75" cy="198.2" fill="#082949"/><circle r="3.75" cy="201.0" fill="#072949"/><circle r="3.75" cy="203.8" fill="#072948"/><circle r="3.75" cy="206.6" fill="#072847"/><circle r="3.75" cy="209.5" fill="#072847"/><circle r="3.75" cy="212.3" fill="#072846"/><circle r="3.75" cy="215.1" fill="#072846"/><circle r="3.75" cy="218.0" fill="#072845"/><circle r="3.75" cy="220.8" fill="#072845"/><circle r="3.75" cy="223.6" fill="#062844"/><circle r="3.75" cy="226.4" fill="#062743"/><circle r="3.75" cy="229.3" fill="#062743"/><circle r="3.75" cy="232.1" fill="#062742"/><circle r="3.75" cy="234.9" fill="#062742"/><circle r="3.75" cy="237.8" fill="#062741"/><circle r="3.75" cy="240.6" fill="#062741"/><circle r="3.75" cy="243.4" fill="#062640"/><circle r="3.75" cy="246.3" fill="#062640"/><circle r="3.75" cy="249.1" fill="#05263f"/><circle r="3.75" cy="251.9" fill="#05263e"/><circle r="3.75" cy="254.8" fill="#05263e"/><circle r="3.75" cy="257.6" fill="#05263d"/><circle r="3.75" cy="260.4" fill="#05263d"/><circle r="3.75" cy="263.2" fill="#05253c"/><circle r="3.75" cy="266.1" fill="#05253c"/><circle r="3.75" cy="268.9" fill="#05253c"/><circle r="3.75" cy="271.7" fill="#05253c"/><circle r="3.75" cy="274.6" fill="#05253c"/><circle r="3.75" cy="277.4" fill="#05253c"/><circle r="3.75" cy="280.2" fill="#05253b"/><circle r="3.75" cy="283.1" fill="#05253b"/><circle r="3.75" cy="285.9" fill="#05253b"/><circle r="3.75" cy="288.7" fill="#05253b"/><circle r="3.75" cy="291.5" fill="#05253b"/><circle r="3.75" cy="294.4" fill="#05253b"/><circle r="3.75" cy="297.2" fill="#05253b"/><circle r="3.75" cy="300.0" fill="#05253a"/><circle r="3.75" cy="302.9" fill="#04253a"/><circle r="3.75" cy="305.7" fill="#04253a"/><circle r="3.75" cy="308.5" fill="#04253a"/><circle r="3.75" cy="311.4" fill="#04253a"/><circle r="3.75" cy="314.2" fill="#04253a"/><circle r="3.75" cy="317.0" fill="#04253a"/><circle r="3.75" cy="319.8" fill="#042539"/><circle r="3.75" cy="322.7" fill="#042539"/><circle r="3.75" cy="325.5" fill="#042539"/><circle r="3.75" cy="328.3" fill="#042539"/><circle r="3.75" cy="331.2" fill="#042539"/><circle r="3.75" cy="334.0" fill="#042539"/><circle r="3.75" cy="336.8" fill="#042539"/><circle r="3.75" cy="339.6" fill="#042439"/><circle r="3.75" cy="342.5" fill="#042438"/><circle r="3.75" cy="345.3" fill="#042438"/><circle r="3.75" cy="348.1" fill="#042438"/><circle r="3.75" cy="351.0" fill="#042438"/><circle r="3.75" cy="353.8" fill="#042438"/><circle r="3.75" cy="356.6" fill="#042438"/><circle r="3.75" cy="359.5" fill="#042438"/><circle r="3.75" cy="362.3" fill="#042437"/><circle r="3.75" cy="365.1" fill="#042437"/><circle r="3.75" cy="368.0" fill="#042437"/><circle r="3.75" cy="370.8" fill="#042437"/><circle r="3.75" cy="373.6" fill="#042437"/><circle r="3.75" cy="376.4" fill="#042437"/><circle r="3.75" cy="379.3" fill="#042437"/><circle r="3.75" cy="382.1" fill="#042437"/><circle r="3.75" cy="384.9" fill="#042436"/><circle r="3.75" cy="387.8" fill="#042436"/><circle r="3.75" cy="390.6" fill="#042436"/><circle r="3.75" cy="393.4" fill="#042436"/><circle r="3.75" cy="396.2" fill="#042436"/><circle r="3.75" cy="399.1" fill="#042436"/><circle r="3.75" cy="401.9" fill="#042436"/><circle r="3.75" cy="404.7" fill="#042435"/><circle r="3.75" cy="407.6" fill="#032435"/><circle r="3.75" cy="410.4" fill="#032435"/><circle r="3.75" cy="413.2" fill="#032435"/><circle r="3.75" cy="416.1" fill="#032435"/><circle r="3.75" cy="418.9" fill="#032335"/><circle r="3.75" cy="421.7" fill="#032335"/><circle r="3.75" cy="424.6" fill="#032335"/><circle r="3.75" cy="427.4" fill="#032334"/></g>
<g transform="translate(733.25 0)"><circle r="3.75" cy="130.2" fill="#0b2e5c"/><circle r="3.75" cy="133.1" fill="#0b2e5b"/><circle r="3.75" cy="135.9" fill="#0b2e5b"/><circle r="3.75" cy="138.7" fill="#0b2d5a"/><circle r="3.75" cy="141.6" fill="#0b2d59"/><circle r="3.75" cy="144.4" fill="#0b2d59"/><circle r="3.75" cy="147.2" fill="#0b2d58"/><circle r="3.75" cy="150.0" fill="#0a2d58"/><circle r="3.75" cy="152.9" fill="#0a2d57"/><circle r="3.75" cy="155.7" fill="#0a2c56"/><circle r="3.75" cy="158.5" fill="#0a2c56"/><circle r="3.75" cy="161.4" fill="#0a2c55"/><circle r="3.75" cy="164.2" fill="#0a2c55"/><circle r="3.75" cy="167.0" fill="#0a2c54"/><circle r="3.75" cy="169.9" fill="#0a2c53"/><circle r="3.75" cy="172.7" fill="#092b53"/><circle r="3.75" cy="175.5" fill="#092b52"/><circle r="3.75" cy="178.3" fill="#092b52"/><circle r="3.75" cy="181.2" fill="#092b51"/><circle r="3.75" cy="184.0" fill="#092b50"/><circle r="3.75" cy="186.8" fill="#092b50"/><circle r="3.75" cy="189.7" fill="#092a4f"/><circle r="3.75" cy="192.5" fill="#092a4f"/><circle r="3.75" cy="195.3" fill="#092a4e"/><circle r="3.75" cy="198.2" fill="#082a4d"/><circle r="3.75" cy="201.0" fill="#082a4d"/><circle r="3.75" cy="203.8" fill="#082a4c"/><circle r="3.75" cy="206.6" fill="#082a4c"/><circle r="3.75" cy="209.5" fill="#08294b"/><circle r="3.75" cy="212.3" fill="#08294a"/><circle r="3.75" cy="215.1" fill="#08294a"/><circle r="3.75" cy="218.0" fill="#072949"/><circle r="3.75" cy="220.8" fill="#072948"/><circle r="3.75" cy="223.6" fill="#072848"/><circle r="3.75" cy="226.4" fill="#072847"/><circle r="3.75" cy="229.3" fill="#072846"/><circle r="3.75" cy="232.1" fill="#072846"/><circle r="3.75" cy="234.9" fill="#072845"/><circle r="3.75" cy="237.8" fill="#072844"/><circle r="3.75" cy="240.6" fill="#062744"/><circle r="3.75" cy="243.4" fill="#062743"/><circle r="3.75" cy="246.3" fill="#062742"/><circle r="3.75" cy="249.1" fill="#062742"/><circle r="3.75" cy="251.9" fill="#062741"/><circle r="3.75" cy="254.8" fill="#062740"/><circle r="3.75" cy="257.6" fill="#062640"/><circle r="3.75" cy="260.4" fill="#05263f"/><circle r="3.75" cy="263.2" fill="#05263e"/><circle r="3.75" cy="266.1" fill="#05263e"/><circle r="3.75" cy="268.9" fill="#05263e"/><circle r="3.75" cy="271.7" fill="#05263e"/><circle r="3.75" cy="274.6" fill="#05263e"/><circle r="3.75" cy="277.4" fill="#05263d"/><circle r="3.75" cy="280.2" fill="#05263d"/><circle r="3.75" cy="283.1" fill="#05263d"/><circle r="3.75" cy="285.9" fill="#05263d"/><circle r="3.75" cy="288.7" fill="#05263d"/><circle r="3.75" cy="291.5" fill="#05263c"/><circle r="3.75" cy="294.4" fill="#05253c"/><circle r="3.75" cy="297.2" fill="#05253c"/><circle r="3.75" cy="300.0" fill="#05253c"/><circle r="3.75" cy="302.9" fill="#05253c"/><circle r="3.75" cy="305.7" fill="#05253b"/><circle r="3.75" cy="308.5" fill="#05253b"/><circle r="3.75" cy="311.4" fill="#05253b"/><circle r="3.75" cy="314.2" fill="#05253b"/><circle r="3.75" cy="317.0" fill="#05253b"/><circle r="3.75" cy="319.8" fill="#05253b"/><circle r="3.75" cy="322.7" fill="#04253a"/><circle r="3.75" cy="325.5" fill="#04253a"/><circle r="3.75" cy="328.3" fill="#04253a"/><circle r="3.75" cy="331.2" fill="#04253a"/><circle r="3.75" cy="334.0" fill="#04253a"/><circle r="3.75" cy="336.8" fill="#042539"/><circle r="3.75" cy="339.6" fill="#042539"/><circle r="3.75" cy="342.5" fill="#042539"/><circle r="3.75" cy="345.3" fill="#042539"/><circle r="3.75" cy="348.1" fill="#042439"/><circle r="3.75" cy="351.0" fill="#042438"/><circle r="3.75" cy="353.8" fill="#042438"/><circle r="3.75" cy="356.6" fill="#042438"/><circle r="3.75" cy="359.5" fill="#042438"/><circle r="3.75" cy="362.3" fill="#042438"/><circle r="3.75" cy="365.1" fill="#042437"/><circle r="3.75" cy="368.0" fill="#042437"/></g>
<g transform="translate(780.50 0)"><circle r="3.75" cy="130.2" fill="#0c2e5e"/><circle r="3.75" cy="133.1" fill="#0c2e5d"/><circle r="3.75" cy="135.9" fill="#0c2e5d"/><circle r="3.75" cy="138.7" fill="#0b2e5c"/><circle r="3.75" cy="141.6" fill="#0b2e5c"/><circle r="3.75" cy="144.4" fill="#0b2e5b"/><circle r="3.75" cy="147.2" fill="#0b2e5b"/><circle r="3.75" cy="150.0" fill="#0b2d5a"/><circle r="3.75" cy="152.9" fill="#0b2d5a"/><circle r="3.75" cy="155.7" fill="#0b2d59"/><circle r="3.75" cy="158.5" fill="#0b2d59"/><circle r="3.75" cy="161.4" fill="#0b2d58"/><circle r="3.75" cy="164.2" fill="#0a2d58"/><circle r="3.75" cy="167.0" fill="#0a2d57"/><circle r="3.75" cy="169.9" fill="#0a2c56"/><circle r="3.75" cy="172.7" fill="#0a2c56"/><circle r="3.75" cy="175.5" fill="#0a2c55"/><circle r="3.75" cy="178.3" fill="#0a2c55"/><circle r="3.75" cy="181.2" fill="#0a2c54"/><circle r="3.75" cy="184.0" fill="#0a2c54"/><circle r="3.75" cy="186.8" fill="#0a2c53"/><circle r="3.75" cy="189.7" fill="#092b53"/><circle r="3.75" cy="192.5" fill="#092b52"/><circle r="3.75" cy="195.3" fill="#092b52"/><circle r="3.75" cy="198.2" fill="#092b51"/><circle r="3.75" cy="201.0" fill="#092b51"/><circle r="3.75" cy="203.8" fill="#092b50"/><circle r="3.75" cy="206.6" fill="#092b4f"/><circle r="3.75" cy="209.5" fill="#092a4f"/><circle r="3.75" cy="212.3" fill="#092a4e"/><circle r="3.75" cy="215.1" fill="#082a4d"/><circle r="3.75" cy="218.0" fill="#082a4d"/><circle r="3.75" cy="220.8" fill="#082a4c"/><circle r="3.75" cy="223.6" fill="#08294b"/><circle r="3.75" cy="226.4" fill="#08294b"/><circle r="3.75" cy="229.3" fill="#08294a"/><circle r="3.75" cy="232.1" fill="#082949"/><circle r="3.75" cy="234.9" fill="#072949"/><circle r="3.75" cy="237.8" fill="#072948"/><circle r="3.75" cy="240.6" fill="#072847"/><circle r="3.75" cy="243.4" fill="#072847"/><circle r="3.75" cy="246.3" fill="#072846"/><circle r="3.75" cy="249.1" fill="#072845"/><circle r="3.75" cy="251.9" fill="#072845"/><circle r="3.75" cy="254.8" fill="#062844"/><circle r="3.75" cy="257.6" fill="#062743"/><circle r="3.75" cy="260.4" fill="#062743"/><circle r="3.75" cy="263.2" fill="#062742"/><circle r="3.75" cy="266.1" fill="#062742"/><circle r="3.75" cy="268.9" fill="#062741"/><circle r="3.75" cy="271.7" fill="#062741"/><circle r="3.75" cy="274.6" fill="#062741"/><circle r="3.75" cy="277.4" fill="#062740"/><circle r="3.75" cy="280.2" fill="#062640"/><circle r="3.75" cy="283.1" fill="#062640"/><circle r="3.75" cy="285.9" fill="#062640"/><circle r="3.75" cy="288.7" fill="#05263f"/><circle r="3.75" cy="291.5" fill="#05263f"/><circle r="3.75" cy="294.4" fill="#05263f"/><circle r="3.75" cy="297.2" fill="#05263e"/><circle r="3.75" cy="300.0" fill="#05263e"/><circle r="3.75" cy="302.9" fill="#05263e"/><circle r="3.75" cy="305.7" fill="#05263d"/><circle r="3.75" cy="308.5" fill="#05263d"/><circle r="3.75" cy="311.4" fill="#05263d"/><circle r="3.75" cy="314.2" fill="#05253c"/><circle r="3.75" cy="317.0" fill="#05253c"/><circle r="3.75" cy="319.8" fill="#05253c"/><circle r="3.75" cy="322.7" fill="#05253b"/><circle r="3.75" cy="325.5" fill="#05253b"/><circle r="3.75" cy="328.3" fill="#05253b"/><circle r="3.75" cy="331.2" fill="#04253a"/><circle r="3.75" cy="334.0" fill="#04253a"/><circle r="3.75" cy="336.8" fill="#04253a"/><circle r="3.75" cy="339.6" fill="#042539"/><circle r="3.75" cy="342.5" fill="#042539"/><circle r="3.75" cy="345.3" fill="#042539"/></g>
<g transform="translate(830.75 0)"><circle r="3.75" cy="130.2" fill="#14306d"/><circle r="3.75" cy="133.1" fill="#13306c"/><circle r="3.75" cy="135.9" fill="#12306b"/><circle r="3.75" cy="138.7" fill="#12306b"/><circle r="3.75" cy="141.6" fill="#11306a"/><circle r="3.75" cy="144.4" fill="#113069"/><circle r="3.75" cy="147.2" fill="#103069"/><circle r="3.75" cy="150.0" fill="#103068"/><circle r="3.75" cy="152.9" fill="#0f3067"/><circle r="3.75" cy="155.7" fill="#0f3066"/><circle r="3.75" cy="158.5" fill="#0e3066"/><circle r="3.75" cy="161.4" fill="#0e3065"/><circle r="3.75" cy="164.2" fill="#0d3064"/><circle r="3.75" cy="167.0" fill="#0d3064"/><circle r="3.75" cy="169.9" fill="#0d3063"/><circle r="3.75" cy="172.7" fill="#0d3062"/><circle r="3.75" cy="175.5" fill="#0d2f62"/><circle r="3.75" cy="178.3" fill="#0c2f61"/><circle r="3.75" cy="181.2" fill="#0c2f60"/><circle r="3.75" cy="184.0" fill="#0c2f60"/><circle r="3.75" cy="186.8" fill="#0c2f5f"/><circle r="3.75" cy="189.7" fill="#0c2e5e"/><circle r="3.75" cy="192.5" fill="#0c2e5d"/><circle r="3.75" cy="195.3" fill="#0b2e5c"/><circle r="3.75" cy="198.2" fill="#0b2e5b"/><circle r="3.75" cy="201.0" fill="#0b2d5a"/><circle r="3.75" cy="203.8" fill="#0b2d59"/><circle r="3.75" cy="206.6" fill="#0b2d58"/><circle r="3.75" cy="209.5" fill="#0a2d58"/><circle r="3.75" cy="212.3" fill="#0a2c57"/><circle r="3.75" cy="215.1" fill="#0a2c56"/><circle r="3.75" cy="218.0" fill="#0a2c55"/><circle r="3.75" cy="220.8" fill="#0a2c54"/><circle r="3.75" cy="223.6" fill="#0a2b53"/><circle r="3.75" cy="226.4" fill="#092b52"/><circle r="3.75" cy="229.3" fill="#092b51"/><circle r="3.75" cy="232.1" fill="#092b50"/><circle r="3.75" cy="234.9" fill="#092b4f"/><circle r="3.75" cy="237.8" fill="#092a4f"/><circle r="3.75" cy="240.6" fill="#082a4e"/><circle r="3.75" cy="243.4" fill="#082a4d"/><circle r="3.75" cy="246.3" fill="#082a4c"/><circle r="3.75" cy="249.1" fill="#08294b"/><circle r="3.75" cy="251.9" fill="#08294a"/><circle r="3.75" cy="254.8" fill="#082949"/><circle r="3.75" cy="257.6" fill="#072948"/><circle r="3.75" cy="260.4" fill="#072847"/><circle r="3.75" cy="263.2" fill="#072846"/><circle r="3.75" cy="266.1" fill="#072846"/><circle r="3.75" cy="268.9" fill="#072845"/><circle r="3.75" cy="271.7" fill="#072845"/><circle r="3.75" cy="274.6" fill="#072844"/><circle r="3.75" cy="277.4" fill="#062744"/><circle r="3.75" cy="280.2" fill="#062743"/><circle r="3.75" cy="283.1" fill="#062743"/><circle r="3.75" cy="285.9" fill="#062742"/><circle r="3.75" cy="288.7" fill="#062742"/><circle r="3.75" cy="291.5" fill="#062741"/><circle r="3.75" cy="294.4" fill="#062741"/><circle r="3.75" cy="297.2" fill="#062740"/><circle r="3.75" cy="300.0" fill="#062640"/></g>
<g transform="translate(880.75 0)"><circle r="3.75" cy="130.2" fill="#1d317a"/><circle r="3.75" cy="133.1" fill="#1d317a"/><circle r="3.75" cy="135.9" fill="#1d317a"/><circle r="3.75" cy="138.7" fill="#1c3179"/><circle r="3.75" cy="141.6" fill="#1c3179"/><circle r="3.75" cy="144.4" fill="#1c3178"/><circle r="3.75" cy="147.2" fill="#1c3178"/><circle r="3.75" cy="150.0" fill="#1b3178"/><circle r="3.75" cy="152.9" fill="#1b3177"/><circle r="3.75" cy="155.7" fill="#1b3177"/><circle r="3.75" cy="158.5" fill="#1a3176"/><circle r="3.75" cy="161.4" fill="#1a3176"/><circle r="3.75" cy="164.2" fill="#1a3176"/><circle r="3.75" cy="167.0" fill="#1a3175"/><circle r="3.75" cy="169.9" fill="#193175"/><circle r="3.75" cy="172.7" fill="#193175"/><circle r="3.75" cy="175.5" fill="#193174"/><circle r="3.75" cy="178.3" fill="#183174"/><circle r="3.75" cy="181.2" fill="#183173"/><circle r="3.75" cy="184.0" fill="#183173"/><circle r="3.75" cy="186.8" fill="#183173"/><circle r="3.75" cy="189.7" fill="#173172"/><circle r="3.75" cy="192.5" fill="#173172"/><circle r="3.75" cy="195.3" fill="#173071"/><circle r="3.75" cy="198.2" fill="#163071"/><circle r="3.75" cy="201.0" fill="#163071"/><circle r="3.75" cy="203.8" fill="#163070"/><circle r="3.75" cy="206.6" fill="#163070"/><circle r="3.75" cy="209.5" fill="#15306f"/><circle r="3.75" cy="212.3" fill="#15306f"/><circle r="3.75" cy="215.1" fill="#15306f"/><circle r="3.75" cy="218.0" fill="#14306e"/><circle r="3.75" cy="220.8" fill="#14306e"/><circle r="3.75" cy="223.6" fill="#14306d"/><circle r="3.75" cy="226.4" fill="#14306d"/><circle r="3.75" cy="229.3" fill="#13306d"/><circle r="3.75" cy="232.1" fill="#13306c"/></g>
<g transform="translate(928.25 0)"><circle r="3.75" cy="130.2" fill="#2c328e"/><circle r="3.75" cy="133.1" fill="#2c328e"/><circle r="3.75" cy="135.9" fill="#2c328e"/><circle r="3.75" cy="138.7" fill="#2b328e"/><circle r="3.75" cy="141.6" fill="#2b328e"/><circle r="3.75" cy="144.4" fill="#2b328d"/><circle r="3.75" cy="147.2" fill="#2b328d"/><circle r="3.75" cy="150.0" fill="#2b318d"/><circle r="3.75" cy="152.9" fill="#2b318d"/><circle r="3.75" cy="155.7" fill="#2b318d"/><circle r="3.75" cy="158.5" fill="#2a318d"/><circle r="3.75" cy="161.4" fill="#2a318c"/><circle r="3.75" cy="164.2" fill="#2a318c"/><circle r="3.75" cy="167.0" fill="#2a318c"/><circle r="3.75" cy="169.9" fill="#2a318c"/><circle r="3.75" cy="172.7" fill="#2a318c"/><circle r="3.75" cy="175.5" fill="#2a318b"/><circle r="3.75" cy="178.3" fill="#2a318b"/><circle r="3.75" cy="181.2" fill="#29318b"/><circle r="3.75" cy="184.0" fill="#29318b"/><circle r="3.75" cy="186.8" fill="#29318b"/><circle r="3.75" cy="189.7" fill="#29318b"/><circle r="3.75" cy="192.5" fill="#29318a"/><circle r="3.75" cy="195.3" fill="#29318a"/><circle r="3.75" cy="198.2" fill="#29318a"/><circle r="3.75" cy="201.0" fill="#28318a"/><circle r="3.75" cy="203.8" fill="#28318a"/><circle r="3.75" cy="206.6" fill="#283189"/></g>
<g transform="translate(978.25 0)"><circle r="3.75" cy="130.2" fill="#39339b"/><circle r="3.75" cy="133.1" fill="#39339b"/><circle r="3.75" cy="135.9" fill="#39339b"/><circle r="3.75" cy="138.7" fill="#39339b"/><circle r="3.75" cy="141.6" fill="#39339b"/><circle r="3.75" cy="144.4" fill="#39339b"/><circle r="3.75" cy="147.2" fill="#39339b"/><circle r="3.75" cy="150.0" fill="#39339b"/><circle r="3.75" cy="152.9" fill="#39339b"/><circle r="3.75" cy="155.7" fill="#38339b"/><circle r="3.75" cy="158.5" fill="#38339b"/><circle r="3.75" cy="161.4" fill="#38339b"/><circle r="3.75" cy="164.2" fill="#38339b"/><circle r="3.75" cy="167.0" fill="#38339b"/><circle r="3.75" cy="169.9" fill="#38339b"/><circle r="3.75" cy="172.7" fill="#38339b"/><circle r="3.75" cy="175.5" fill="#38339b"/><circle r="3.75" cy="178.3" fill="#38339b"/><circle r="3.75" cy="181.2" fill="#38339b"/><circle r="3.75" cy="184.0" fill="#37339b"/><circle r="3.75" cy="186.8" fill="#37339b"/><circle r="3.75" cy="189.7" fill="#37339b"/><circle r="3.75" cy="192.5" fill="#37339b"/></g>
<g transform="translate(1002.00 0)"><circle r="3.75" cy="130.2" fill="#4f3a9a"/><circle r="3.75" cy="133.1" fill="#4f3a9a"/><circle r="3.75" cy="135.9" fill="#4f3a9a"/><circle r="3.75" cy="138.7" fill="#4f3a9a"/><circle r="3.75" cy="141.6" fill="#4f3a9a"/><circle r="3.75" cy="144.4" fill="#4f3a9a"/><circle r="3.75" cy="147.2" fill="#4f3a9a"/><circle r="3.75" cy="150.0" fill="#4f3a9a"/><circle r="3.75" cy="152.9" fill="#4f3a9a"/><circle r="3.75" cy="155.7" fill="#4e3a9a"/><circle r="3.75" cy="158.5" fill="#4e3a9a"/><circle r="3.75" cy="161.4" fill="#4e3a9a"/><circle r="3.75" cy="164.2" fill="#4e3a9a"/><circle r="3.75" cy="167.0" fill="#4e3a9a"/><circle r="3.75" cy="169.9" fill="#4e399a"/><circle r="3.75" cy="172.7" fill="#4e399a"/><circle r="3.75" cy="175.5" fill="#4e399a"/><circle r="3.75" cy="178.3" fill="#4e399a"/></g>
</g>
<g clip-path="url(#c3)">
<g transform="translate(1058.50 0)"><circle r="3.75" cy="115.3" fill="#3e0912"/><circle r="3.75" cy="118.4" fill="#3e0912"/><circle r="3.75" cy="121.5" fill="#3f0912"/><circle r="3.75" cy="124.7" fill="#3f0912"/><circle r="3.75" cy="127.8" fill="#400912"/><circle r="3.75" cy="130.9" fill="#400913"/><circle r="3.75" cy="134.0" fill="#410913"/><circle r="3.75" cy="137.1" fill="#410913"/><circle r="3.75" cy="140.2" fill="#420913"/><circle r="3.75" cy="143.3" fill="#420a13"/><circle r="3.75" cy="146.5" fill="#440a14"/><circle r="3.75" cy="149.6" fill="#460a15"/><circle r="3.75" cy="152.7" fill="#480a15"/><circle r="3.75" cy="155.8" fill="#490a16"/><circle r="3.75" cy="158.9" fill="#4b0a17"/><circle r="3.75" cy="162.0" fill="#4d0a18"/><circle r="3.75" cy="165.2" fill="#4f0b18"/></g>
<g transform="translate(1105.75 0)"><circle r="3.75" cy="115.3" fill="#4c0a17"/><circle r="3.75" cy="118.4" fill="#4c0a17"/><circle r="3.75" cy="121.5" fill="#4d0a17"/><circle r="3.75" cy="124.7" fill="#4e0a18"/><circle r="3.75" cy="127.8" fill="#4f0b18"/><circle r="3.75" cy="130.9" fill="#500b19"/><circle r="3.75" cy="134.0" fill="#510b19"/><circle r="3.75" cy="137.1" fill="#520b19"/><circle r="3.75" cy="140.2" fill="#530b1a"/><circle r="3.75" cy="143.3" fill="#540b1a"/><circle r="3.75" cy="146.5" fill="#550b1a"/><circle r="3.75" cy="149.6" fill="#5b0c1d"/><circle r="3.75" cy="152.7" fill="#6b0d23"/><circle r="3.75" cy="155.8" fill="#7a0e28"/><circle r="3.75" cy="158.9" fill="#7a0e28"/><circle r="3.75" cy="162.0" fill="#7a0e28"/><circle r="3.75" cy="165.2" fill="#7a0e28"/><circle r="3.75" cy="168.3" fill="#7a0e28"/><circle r="3.75" cy="171.4" fill="#7a0e28"/><circle r="3.75" cy="174.5" fill="#790e28"/><circle r="3.75" cy="177.6" fill="#790e28"/><circle r="3.75" cy="180.7" fill="#790e28"/><circle r="3.75" cy="183.8" fill="#790e28"/><circle r="3.75" cy="187.0" fill="#790e28"/><circle r="3.75" cy="190.1" fill="#790e28"/><circle r="3.75" cy="193.2" fill="#790e28"/><circle r="3.75" cy="196.3" fill="#790e28"/><circle r="3.75" cy="199.4" fill="#790e28"/><circle r="3.75" cy="202.5" fill="#790e28"/><circle r="3.75" cy="205.7" fill="#790e28"/><circle r="3.75" cy="208.8" fill="#790e28"/><circle r="3.75" cy="211.9" fill="#790e28"/><circle r="3.75" cy="215.0" fill="#790e28"/><circle r="3.75" cy="218.1" fill="#790e28"/><circle r="3.75" cy="221.2" fill="#790e28"/><circle r="3.75" cy="224.3" fill="#790e28"/><circle r="3.75" cy="227.5" fill="#790e28"/><circle r="3.75" cy="230.6" fill="#780e28"/><circle r="3.75" cy="233.7" fill="#780e28"/><circle r="3.75" cy="236.8" fill="#780e28"/><circle r="3.75" cy="239.9" fill="#780e28"/><circle r="3.75" cy="243.0" fill="#780e28"/><circle r="3.75" cy="246.1" fill="#780e28"/><circle r="3.75" cy="249.3" fill="#780e28"/><circle r="3.75" cy="252.4" fill="#780e28"/><circle r="3.75" cy="255.5" fill="#760e27"/><circle r="3.75" cy="258.6" fill="#720e26"/><circle r="3.75" cy="261.7" fill="#6e0d24"/><circle r="3.75" cy="264.8" fill="#6b0d23"/><circle r="3.75" cy="267.9" fill="#670d22"/><circle r="3.75" cy="271.1" fill="#630c20"/><circle r="3.75" cy="274.2" fill="#600c1f"/><circle r="3.75" cy="277.3" fill="#5c0c1d"/><circle r="3.75" cy="280.4" fill="#5b0c1d"/><circle r="3.75" cy="283.5" fill="#5c0c1d"/><circle r="3.75" cy="286.6" fill="#5c0c1d"/><circle r="3.75" cy="289.8" fill="#5d0c1e"/><circle r="3.75" cy="292.9" fill="#5e0c1e"/><circle r="3.75" cy="296.0" fill="#5e0c1e"/><circle r="3.75" cy="299.1" fill="#5f0c1e"/><circle r="3.75" cy="302.2" fill="#5f0c1f"/><circle r="3.75" cy="305.3" fill="#630c20"/><circle r="3.75" cy="308.4" fill="#6a0d23"/><circle r="3.75" cy="311.6" fill="#700d25"/><circle r="3.75" cy="314.7" fill="#760e27"/><circle r="3.75" cy="317.8" fill="#810f28"/><circle r="3.75" cy="320.9" fill="#8d1129"/><circle r="3.75" cy="324.0" fill="#971329"/><circle r="3.75" cy="327.1" fill="#971329"/><circle r="3.75" cy="330.2" fill="#981329"/><circle r="3.75" cy="333.4" fill="#981329"/><circle r="3.75" cy="336.5" fill="#991429"/><circle r="3.75" cy="339.6" fill="#991429"/><circle r="3.75" cy="342.7" fill="#991529"/><circle r="3.75" cy="345.8" fill="#9a1529"/><circle r="3.75" cy="348.9" fill="#9a1628"/><circle r="3.75" cy="352.1" fill="#9b1628"/><circle r="3.75" cy="355.2" fill="#9b1728"/><circle r="3.75" cy="358.3" fill="#9b1728"/><circle r="3.75" cy="361.4" fill="#9c1728"/><circle r="3.75" cy="364.5" fill="#9c1828"/><circle r="3.75" cy="367.6" fill="#9c1828"/><circle r="3.75" cy="370.7" fill="#9d1928"/><circle r="3.75" cy="373.9" fill="#9d1928"/><circle r="3.75" cy="377.0" fill="#9e1a28"/><circle r="3.75" cy="380.1" fill="#9e1a28"/><circle r="3.75" cy="383.2" fill="#9e1b27"/><circle r="3.75" cy="386.3" fill="#9f1b27"/><circle r="3.75" cy="389.4" fill="#9f1b27"/><circle r="3.75" cy="392.6" fill="#9f1c27"/><circle r="3.75" cy="395.7" fill="#a01c27"/><circle r="3.75" cy="398.8" fill="#a01d27"/><circle r="3.75" cy="401.9" fill="#a11d27"/><circle r="3.75" cy="405.0" fill="#a11d27"/><circle r="3.75" cy="408.1" fill="#a11d27"/><circle r="3.75" cy="411.2" fill="#a11d27"/><circle r="3.75" cy="414.4" fill="#a11d27"/><circle r="3.75" cy="417.5" fill="#a11d27"/><circle r="3.75" cy="420.6" fill="#a11d27"/><circle r="3.75" cy="423.7" fill="#a11d27"/></g>
<g transform="translate(1156.00 0)"><circle r="3.75" cy="115.3" fill="#600c1f"/><circle r="3.75" cy="118.4" fill="#600c1f"/><circle r="3.75" cy="121.5" fill="#5f0c1f"/><circle r="3.75" cy="124.7" fill="#5f0c1e"/><circle r="3.75" cy="127.8" fill="#5f0c1e"/><circle r="3.75" cy="130.9" fill="#5f0c1e"/><circle r="3.75" cy="134.0" fill="#5e0c1e"/><circle r="3.75" cy="137.1" fill="#5e0c1e"/><circle r="3.75" cy="140.2" fill="#5e0c1e"/><circle r="3.75" cy="143.3" fill="#5e0c1e"/><circle r="3.75" cy="146.5" fill="#5e0c1e"/><circle r="3.75" cy="149.6" fill="#5d0c1e"/><circle r="3.75" cy="152.7" fill="#5d0c1e"/><circle r="3.75" cy="155.8" fill="#5d0c1e"/><circle r="3.75" cy="158.9" fill="#5d0c1d"/><circle r="3.75" cy="162.0" fill="#5c0c1d"/><circle r="3.75" cy="165.2" fill="#5c0c1d"/><circle r="3.75" cy="168.3" fill="#5c0c1d"/><circle r="3.75" cy="171.4" fill="#5c0c1d"/><circle r="3.75" cy="174.5" fill="#5b0c1d"/><circle r="3.75" cy="177.6" fill="#5b0c1d"/><circle r="3.75" cy="180.7" fill="#5b0c1d"/><circle r="3.75" cy="183.8" fill="#5b0c1d"/><circle r="3.75" cy="187.0" fill="#590b1c"/><circle r="3.75" cy="190.1" fill="#580b1c"/><circle r="3.75" cy="193.2" fill="#560b1b"/><circle r="3.75" cy="196.3" fill="#550b1a"/><circle r="3.75" cy="199.4" fill="#530b1a"/><circle r="3.75" cy="202.5" fill="#520b19"/><circle r="3.75" cy="205.7" fill="#500b19"/><circle r="3.75" cy="208.8" fill="#4f0b18"/><circle r="3.75" cy="211.9" fill="#4e0a18"/><circle r="3.75" cy="215.0" fill="#4c0a17"/><circle r="3.75" cy="218.1" fill="#4b0a17"/><circle r="3.75" cy="221.2" fill="#490a16"/><circle r="3.75" cy="224.3" fill="#490a16"/><circle r="3.75" cy="227.5" fill="#4a0a16"/><circle r="3.75" cy="230.6" fill="#4b0a17"/><circle r="3.75" cy="233.7" fill="#4d0a17"/><circle r="3.75" cy="236.8" fill="#4e0b18"/><circle r="3.75" cy="239.9" fill="#4f0b18"/><circle r="3.75" cy="243.0" fill="#510b19"/><circle r="3.75" cy="246.1" fill="#520b19"/><circle r="3.75" cy="249.3" fill="#540b1a"/><circle r="3.75" cy="252.4" fill="#550b1b"/><circle r="3.75" cy="255.5" fill="#560b1b"/><circle r="3.75" cy="258.6" fill="#570b1b"/><circle r="3.75" cy="261.7" fill="#590b1c"/><circle r="3.75" cy="264.8" fill="#5a0b1c"/><circle r="3.75" cy="267.9" fill="#5b0c1d"/><circle r="3.75" cy="271.1" fill="#5c0c1d"/><circle r="3.75" cy="274.2" fill="#5d0c1e"/><circle r="3.75" cy="277.3" fill="#5e0c1e"/><circle r="3.75" cy="280.4" fill="#600c1f"/><circle r="3.75" cy="283.5" fill="#610c1f"/><circle r="3.75" cy="286.6" fill="#620c20"/><circle r="3.75" cy="289.8" fill="#630c20"/><circle r="3.75" cy="292.9" fill="#640c20"/><circle r="3.75" cy="296.0" fill="#670d22"/><circle r="3.75" cy="299.1" fill="#6b0d23"/><circle r="3.75" cy="302.2" fill="#6e0d24"/><circle r="3.75" cy="305.3" fill="#720d26"/><circle r="3.75" cy="308.4" fill="#750e27"/><circle r="3.75" cy="311.6" fill="#790e28"/><circle r="3.75" cy="314.7" fill="#7c0f28"/><circle r="3.75" cy="317.8" fill="#800f28"/><circle r="3.75" cy="320.9" fill="#841028"/><circle r="3.75" cy="324.0" fill="#881028"/><circle r="3.75" cy="327.1" fill="#8b1129"/><circle r="3.75" cy="330.2" fill="#8f1229"/><circle r="3.75" cy="333.4" fill="#931229"/><circle r="3.75" cy="336.5" fill="#971329"/><circle r="3.75" cy="339.6" fill="#991529"/><circle r="3.75" cy="342.7" fill="#9c1828"/><circle r="3.75" cy="345.8" fill="#9c1828"/><circle r="3.75" cy="348.9" fill="#9d1828"/><circle r="3.75" cy="352.1" fill="#9d1928"/><circle r="3.75" cy="355.2" fill="#9d1928"/><circle r="3.75" cy="358.3" fill="#9d1928"/><circle r="3.75" cy="361.4" fill="#9d1928"/><circle r="3.75" cy="364.5" fill="#9d1928"/><circle r="3.75" cy="367.6" fill="#9d1928"/><circle r="3.75" cy="370.7" fill="#9d1928"/><circle r="3.75" cy="373.9" fill="#9d1928"/><circle r="3.75" cy="377.0" fill="#9d1928"/><circle r="3.75" cy="380.1" fill="#9d1a28"/><circle r="3.75" cy="383.2" fill="#9e1a28"/><circle r="3.75" cy="386.3" fill="#9e1a28"/><circle r="3.75" cy="389.4" fill="#9e1a28"/><circle r="3.75" cy="392.6" fill="#9e1a28"/><circle r="3.75" cy="395.7" fill="#9e1a28"/><circle r="3.75" cy="398.8" fill="#9e1a28"/><circle r="3.75" cy="401.9" fill="#9e1a27"/><circle r="3.75" cy="405.0" fill="#a52326"/><circle r="3.75" cy="408.1" fill="#ac2b24"/><circle r="3.75" cy="411.2" fill="#ac2c25"/><circle r="3.75" cy="414.4" fill="#ad2c25"/><circle r="3.75" cy="417.5" fill="#ad2d25"/><circle r="3.75" cy="420.6" fill="#ad2d25"/><circle r="3.75" cy="423.7" fill="#ad2e26"/><circle r="3.75" cy="426.8" fill="#ad2e26"/><circle r="3.75" cy="429.9" fill="#ad2f26"/><circle r="3.75" cy="433.0" fill="#ae2f27"/><circle r="3.75" cy="436.2" fill="#ae3027"/><circle r="3.75" cy="439.3" fill="#ae3027"/><circle r="3.75" cy="442.4" fill="#ae3027"/></g>
<g transform="translate(1206.25 0)"><circle r="3.75" cy="115.3" fill="#410913"/><circle r="3.75" cy="118.4" fill="#410913"/><circle r="3.75" cy="121.5" fill="#410913"/><circle r="3.75" cy="124.7" fill="#410913"/><circle r="3.75" cy="127.8" fill="#410913"/><circle r="3.75" cy="130.9" fill="#410913"/><circle r="3.75" cy="134.0" fill="#410913"/><circle r="3.75" cy="137.1" fill="#410913"/><circle r="3.75" cy="140.2" fill="#410913"/><circle r="3.75" cy="143.3" fill="#410913"/><circle r="3.75" cy="146.5" fill="#410913"/><circle r="3.75" cy="149.6" fill="#410913"/><circle r="3.75" cy="152.7" fill="#410913"/><circle r="3.75" cy="155.8" fill="#410913"/><circle r="3.75" cy="158.9" fill="#410913"/><circle r="3.75" cy="162.0" fill="#410913"/><circle r="3.75" cy="165.2" fill="#410913"/><circle r="3.75" cy="168.3" fill="#410913"/><circle r="3.75" cy="171.4" fill="#410913"/><circle r="3.75" cy="174.5" fill="#410913"/><circle r="3.75" cy="177.6" fill="#410913"/><circle r="3.75" cy="180.7" fill="#410913"/><circle r="3.75" cy="183.8" fill="#410913"/><circle r="3.75" cy="187.0" fill="#410913"/><circle r="3.75" cy="190.1" fill="#410913"/><circle r="3.75" cy="193.2" fill="#410913"/><circle r="3.75" cy="196.3" fill="#410913"/><circle r="3.75" cy="199.4" fill="#410913"/><circle r="3.75" cy="202.5" fill="#410913"/><circle r="3.75" cy="205.7" fill="#410913"/><circle r="3.75" cy="208.8" fill="#410913"/><circle r="3.75" cy="211.9" fill="#410913"/><circle r="3.75" cy="215.0" fill="#410913"/><circle r="3.75" cy="218.1" fill="#410913"/><circle r="3.75" cy="221.2" fill="#410913"/><circle r="3.75" cy="224.3" fill="#410913"/><circle r="3.75" cy="227.5" fill="#410913"/><circle r="3.75" cy="230.6" fill="#410913"/><circle r="3.75" cy="233.7" fill="#420913"/><circle r="3.75" cy="236.8" fill="#460a15"/><circle r="3.75" cy="239.9" fill="#4a0a16"/><circle r="3.75" cy="243.0" fill="#4f0b18"/><circle r="3.75" cy="246.1" fill="#530b1a"/><circle r="3.75" cy="249.3" fill="#580b1c"/><circle r="3.75" cy="252.4" fill="#5c0c1d"/><circle r="3.75" cy="255.5" fill="#600c1f"/><circle r="3.75" cy="258.6" fill="#650c21"/><circle r="3.75" cy="261.7" fill="#670d22"/><circle r="3.75" cy="264.8" fill="#6a0d23"/><circle r="3.75" cy="267.9" fill="#6c0d23"/><circle r="3.75" cy="271.1" fill="#6f0d24"/><circle r="3.75" cy="274.2" fill="#710d25"/><circle r="3.75" cy="277.3" fill="#740e26"/><circle r="3.75" cy="280.4" fill="#760e27"/><circle r="3.75" cy="283.5" fill="#790e28"/><circle r="3.75" cy="286.6" fill="#7b0f28"/><circle r="3.75" cy="289.8" fill="#7f0f28"/><circle r="3.75" cy="292.9" fill="#831028"/><circle r="3.75" cy="296.0" fill="#871028"/><circle r="3.75" cy="299.1" fill="#8b1129"/><circle r="3.75" cy="302.2" fill="#8f1229"/><circle r="3.75" cy="305.3" fill="#921229"/><circle r="3.75" cy="308.4" fill="#931229"/><circle r="3.75" cy="311.6" fill="#941229"/><circle r="3.75" cy="314.7" fill="#951329"/><circle r="3.75" cy="317.8" fill="#961329"/><circle r="3.75" cy="320.9" fill="#971329"/><circle r="3.75" cy="324.0" fill="#981329"/><circle r="3.75" cy="327.1" fill="#991429"/><circle r="3.75" cy="330.2" fill="#9a1529"/><circle r="3.75" cy="333.4" fill="#9a1628"/><circle r="3.75" cy="336.5" fill="#9b1728"/><circle r="3.75" cy="339.6" fill="#9c1828"/><circle r="3.75" cy="342.7" fill="#9d1928"/><circle r="3.75" cy="345.8" fill="#9d1928"/><circle r="3.75" cy="348.9" fill="#9d1928"/><circle r="3.75" cy="352.1" fill="#9d1928"/><circle r="3.75" cy="355.2" fill="#9d1a28"/><circle r="3.75" cy="358.3" fill="#9e1a28"/><circle r="3.75" cy="361.4" fill="#9e1a28"/><circle r="3.75" cy="364.5" fill="#9e1a28"/><circle r="3.75" cy="367.6" fill="#9e1a27"/><circle r="3.75" cy="370.7" fill="#9e1b27"/><circle r="3.75" cy="373.9" fill="#9e1b27"/><circle r="3.75" cy="377.0" fill="#9f1b27"/></g>
<g transform="translate(1253.50 0)"><circle r="3.75" cy="115.3" fill="#470a15"/><circle r="3.75" cy="118.4" fill="#470a15"/><circle r="3.75" cy="121.5" fill="#470a15"/><circle r="3.75" cy="124.7" fill="#470a15"/><circle r="3.75" cy="127.8" fill="#470a15"/><circle r="3.75" cy="130.9" fill="#470a15"/><circle r="3.75" cy="134.0" fill="#470a15"/><circle r="3.75" cy="137.1" fill="#470a15"/><circle r="3.75" cy="140.2" fill="#470a15"/><circle r="3.75" cy="143.3" fill="#470a15"/><circle r="3.75" cy="146.5" fill="#470a15"/><circle r="3.75" cy="149.6" fill="#470a15"/><circle r="3.75" cy="152.7" fill="#470a15"/><circle r="3.75" cy="155.8" fill="#470a15"/><circle r="3.75" cy="158.9" fill="#470a15"/><circle r="3.75" cy="162.0" fill="#470a15"/><circle r="3.75" cy="165.2" fill="#470a15"/><circle r="3.75" cy="168.3" fill="#480a15"/><circle r="3.75" cy="171.4" fill="#480a15"/><circle r="3.75" cy="174.5" fill="#480a15"/><circle r="3.75" cy="177.6" fill="#480a15"/><circle r="3.75" cy="180.7" fill="#480a16"/><circle r="3.75" cy="183.8" fill="#480a16"/><circle r="3.75" cy="187.0" fill="#480a16"/><circle r="3.75" cy="190.1" fill="#480a16"/><circle r="3.75" cy="193.2" fill="#480a16"/><circle r="3.75" cy="196.3" fill="#480a16"/><circle r="3.75" cy="199.4" fill="#480a16"/><circle r="3.75" cy="202.5" fill="#480a16"/><circle r="3.75" cy="205.7" fill="#490a16"/><circle r="3.75" cy="208.8" fill="#4a0a16"/><circle r="3.75" cy="211.9" fill="#4a0a17"/><circle r="3.75" cy="215.0" fill="#4b0a17"/><circle r="3.75" cy="218.1" fill="#4c0a17"/><circle r="3.75" cy="221.2" fill="#4d0a18"/><circle r="3.75" cy="224.3" fill="#4e0a18"/><circle r="3.75" cy="227.5" fill="#4f0b18"/><circle r="3.75" cy="230.6" fill="#500b18"/><circle r="3.75" cy="233.7" fill="#500b19"/><circle r="3.75" cy="236.8" fill="#510b19"/><circle r="3.75" cy="239.9" fill="#520b19"/><circle r="3.75" cy="243.0" fill="#530b1a"/><circle r="3.75" cy="246.1" fill="#540b1a"/><circle r="3.75" cy="249.3" fill="#550b1a"/><circle r="3.75" cy="252.4" fill="#550b1b"/><circle r="3.75" cy="255.5" fill="#560b1b"/><circle r="3.75" cy="258.6" fill="#570b1b"/><circle r="3.75" cy="261.7" fill="#580b1c"/><circle r="3.75" cy="264.8" fill="#5a0c1d"/><circle r="3.75" cy="267.9" fill="#5e0c1e"/><circle r="3.75" cy="271.1" fill="#620c20"/><circle r="3.75" cy="274.2" fill="#660c21"/><circle r="3.75" cy="277.3" fill="#6a0d23"/><circle r="3.75" cy="280.4" fill="#6e0d24"/><circle r="3.75" cy="283.5" fill="#720d26"/><circle r="3.75" cy="286.6" fill="#760e27"/><circle r="3.75" cy="289.8" fill="#790e28"/><circle r="3.75" cy="292.9" fill="#7b0e28"/><circle r="3.75" cy="296.0" fill="#7d0f28"/><circle r="3.75" cy="299.1" fill="#800f28"/><circle r="3.75" cy="302.2" fill="#821028"/><circle r="3.75" cy="305.3" fill="#841028"/><circle r="3.75" cy="308.4" fill="#861028"/><circle r="3.75" cy="311.6" fill="#881129"/><circle r="3.75" cy="314.7" fill="#8b1129"/><circle r="3.75" cy="317.8" fill="#8d1129"/><circle r="3.75" cy="320.9" fill="#8f1229"/><circle r="3.75" cy="324.0" fill="#911229"/><circle r="3.75" cy="327.1" fill="#921229"/><circle r="3.75" cy="330.2" fill="#931229"/><circle r="3.75" cy="333.4" fill="#941229"/><circle r="3.75" cy="336.5" fill="#951329"/><circle r="3.75" cy="339.6" fill="#961329"/><circle r="3.75" cy="342.7" fill="#971329"/><circle r="3.75" cy="345.8" fill="#981329"/><circle r="3.75" cy="348.9" fill="#991429"/><circle r="3.75" cy="352.1" fill="#991529"/></g>
<g transform="translate(1303.75 0)"><circle r="3.75" cy="115.3" fill="#650c21"/><circle r="3.75" cy="118.4" fill="#650c21"/><circle r="3.75" cy="121.5" fill="#640c20"/><circle r="3.75" cy="124.7" fill="#640c20"/><circle r="3.75" cy="127.8" fill="#630c20"/><circle r="3.75" cy="130.9" fill="#630c20"/><circle r="3.75" cy="134.0" fill="#620c20"/><circle r="3.75" cy="137.1" fill="#620c20"/><circle r="3.75" cy="140.2" fill="#610c1f"/><circle r="3.75" cy="143.3" fill="#610c1f"/><circle r="3.75" cy="146.5" fill="#600c1f"/><circle r="3.75" cy="149.6" fill="#600c1f"/><circle r="3.75" cy="152.7" fill="#600c1f"/><circle r="3.75" cy="155.8" fill="#5f0c1e"/><circle r="3.75" cy="158.9" fill="#5f0c1e"/><circle r="3.75" cy="162.0" fill="#5e0c1e"/><circle r="3.75" cy="165.2" fill="#5e0c1e"/><circle r="3.75" cy="168.3" fill="#5d0c1e"/><circle r="3.75" cy="171.4" fill="#5d0c1e"/><circle r="3.75" cy="174.5" fill="#5c0c1d"/><circle r="3.75" cy="177.6" fill="#5c0c1d"/><circle r="3.75" cy="180.7" fill="#5b0c1d"/><circle r="3.75" cy="183.8" fill="#5b0c1d"/><circle r="3.75" cy="187.0" fill="#5a0c1d"/><circle r="3.75" cy="190.1" fill="#5a0c1d"/><circle r="3.75" cy="193.2" fill="#5a0b1c"/><circle r="3.75" cy="196.3" fill="#590b1c"/><circle r="3.75" cy="199.4" fill="#590b1c"/><circle r="3.75" cy="202.5" fill="#580b1c"/><circle r="3.75" cy="205.7" fill="#580b1c"/><circle r="3.75" cy="208.8" fill="#580b1c"/><circle r="3.75" cy="211.9" fill="#580b1c"/><circle r="3.75" cy="215.0" fill="#590b1c"/><circle r="3.75" cy="218.1" fill="#590b1c"/><circle r="3.75" cy="221.2" fill="#590b1c"/><circle r="3.75" cy="224.3" fill="#590b1c"/><circle r="3.75" cy="227.5" fill="#590b1c"/><circle r="3.75" cy="230.6" fill="#590b1c"/><circle r="3.75" cy="233.7" fill="#5a0b1c"/><circle r="3.75" cy="236.8" fill="#5a0b1c"/><circle r="3.75" cy="239.9" fill="#5a0b1c"/><circle r="3.75" cy="243.0" fill="#5a0c1d"/><circle r="3.75" cy="246.1" fill="#5a0c1d"/><circle r="3.75" cy="249.3" fill="#5a0c1d"/><circle r="3.75" cy="252.4" fill="#5b0c1d"/><circle r="3.75" cy="255.5" fill="#5c0c1d"/><circle r="3.75" cy="258.6" fill="#5d0c1e"/><circle r="3.75" cy="261.7" fill="#5f0c1e"/><circle r="3.75" cy="264.8" fill="#600c1f"/><circle r="3.75" cy="267.9" fill="#620c1f"/><circle r="3.75" cy="271.1" fill="#630c20"/><circle r="3.75" cy="274.2" fill="#650c21"/><circle r="3.75" cy="277.3" fill="#660d21"/><circle r="3.75" cy="280.4" fill="#680d22"/><circle r="3.75" cy="283.5" fill="#690d22"/><circle r="3.75" cy="286.6" fill="#6b0d23"/><circle r="3.75" cy="289.8" fill="#6c0d24"/><circle r="3.75" cy="292.9" fill="#6e0d24"/><circle r="3.75" cy="296.0" fill="#6f0d25"/><circle r="3.75" cy="299.1" fill="#710d25"/><circle r="3.75" cy="302.2" fill="#720e26"/></g>
<g transform="translate(1353.75 0)"><circle r="3.75" cy="115.3" fill="#5b0c1d"/><circle r="3.75" cy="118.4" fill="#5b0c1d"/><circle r="3.75" cy="121.5" fill="#5b0c1d"/><circle r="3.75" cy="124.7" fill="#5c0c1d"/><circle r="3.75" cy="127.8" fill="#5c0c1d"/><circle r="3.75" cy="130.9" fill="#780e28"/><circle r="3.75" cy="134.0" fill="#800f28"/><circle r="3.75" cy="137.1" fill="#800f28"/><circle r="3.75" cy="140.2" fill="#810f28"/><circle r="3.75" cy="143.3" fill="#810f28"/><circle r="3.75" cy="146.5" fill="#810f28"/><circle r="3.75" cy="149.6" fill="#810f28"/><circle r="3.75" cy="152.7" fill="#820f28"/><circle r="3.75" cy="155.8" fill="#821028"/><circle r="3.75" cy="158.9" fill="#821028"/><circle r="3.75" cy="162.0" fill="#821028"/><circle r="3.75" cy="165.2" fill="#831028"/><circle r="3.75" cy="168.3" fill="#831028"/><circle r="3.75" cy="171.4" fill="#831028"/><circle r="3.75" cy="174.5" fill="#831028"/><circle r="3.75" cy="177.6" fill="#841028"/><circle r="3.75" cy="180.7" fill="#841028"/><circle r="3.75" cy="183.8" fill="#841028"/><circle r="3.75" cy="187.0" fill="#841028"/><circle r="3.75" cy="190.1" fill="#851028"/><circle r="3.75" cy="193.2" fill="#851028"/><circle r="3.75" cy="196.3" fill="#851028"/><circle r="3.75" cy="199.4" fill="#851028"/><circle r="3.75" cy="202.5" fill="#851028"/><circle r="3.75" cy="205.7" fill="#861028"/><circle r="3.75" cy="208.8" fill="#861028"/><circle r="3.75" cy="211.9" fill="#861028"/><circle r="3.75" cy="215.0" fill="#861028"/><circle r="3.75" cy="218.1" fill="#871028"/><circle r="3.75" cy="221.2" fill="#871028"/><circle r="3.75" cy="224.3" fill="#871028"/><circle r="3.75" cy="227.5" fill="#871028"/></g>
<g transform="translate(1401.25 0)"><circle r="3.75" cy="115.3" fill="#6a0d22"/><circle r="3.75" cy="118.4" fill="#6a0d22"/><circle r="3.75" cy="121.5" fill="#6d0d24"/><circle r="3.75" cy="124.7" fill="#700d25"/><circle r="3.75" cy="127.8" fill="#740e26"/><circle r="3.75" cy="130.9" fill="#770e28"/><circle r="3.75" cy="134.0" fill="#7b0e28"/><circle r="3.75" cy="137.1" fill="#7e0f28"/><circle r="3.75" cy="140.2" fill="#810f28"/><circle r="3.75" cy="143.3" fill="#831028"/><circle r="3.75" cy="146.5" fill="#851028"/><circle r="3.75" cy="149.6" fill="#871028"/><circle r="3.75" cy="152.7" fill="#891129"/><circle r="3.75" cy="155.8" fill="#8b1129"/><circle r="3.75" cy="158.9" fill="#8d1129"/><circle r="3.75" cy="162.0" fill="#8f1229"/><circle r="3.75" cy="165.2" fill="#911229"/><circle r="3.75" cy="168.3" fill="#931229"/><circle r="3.75" cy="171.4" fill="#951329"/><circle r="3.75" cy="174.5" fill="#971329"/><circle r="3.75" cy="177.6" fill="#981329"/><circle r="3.75" cy="180.7" fill="#991429"/><circle r="3.75" cy="183.8" fill="#991429"/><circle r="3.75" cy="187.0" fill="#9a1529"/><circle r="3.75" cy="190.1" fill="#9a1628"/><circle r="3.75" cy="193.2" fill="#9b1728"/><circle r="3.75" cy="196.3" fill="#9c1728"/><circle r="3.75" cy="199.4" fill="#9c1828"/></g>
<g transform="translate(1451.25 0)"><circle r="3.75" cy="115.3" fill="#6a0d22"/><circle r="3.75" cy="118.4" fill="#6a0d22"/><circle r="3.75" cy="121.5" fill="#6e0d24"/><circle r="3.75" cy="124.7" fill="#730e26"/><circle r="3.75" cy="127.8" fill="#780e28"/><circle r="3.75" cy="130.9" fill="#7d0f28"/><circle r="3.75" cy="134.0" fill="#821028"/><circle r="3.75" cy="137.1" fill="#831028"/><circle r="3.75" cy="140.2" fill="#851028"/><circle r="3.75" cy="143.3" fill="#861028"/><circle r="3.75" cy="146.5" fill="#881028"/><circle r="3.75" cy="149.6" fill="#891129"/><circle r="3.75" cy="152.7" fill="#8a1129"/><circle r="3.75" cy="155.8" fill="#8c1129"/><circle r="3.75" cy="158.9" fill="#8d1129"/><circle r="3.75" cy="162.0" fill="#8f1229"/><circle r="3.75" cy="165.2" fill="#901229"/><circle r="3.75" cy="168.3" fill="#921229"/><circle r="3.75" cy="171.4" fill="#931229"/><circle r="3.75" cy="174.5" fill="#941229"/><circle r="3.75" cy="177.6" fill="#951229"/><circle r="3.75" cy="180.7" fill="#951329"/><circle r="3.75" cy="183.8" fill="#961329"/></g>
<g transform="translate(1475.00 0)"><circle r="3.75" cy="115.3" fill="#821028"/><circle r="3.75" cy="118.4" fill="#821028"/><circle r="3.75" cy="121.5" fill="#831028"/><circle r="3.75" cy="124.7" fill="#841028"/><circle r="3.75" cy="127.8" fill="#861028"/><circle r="3.75" cy="130.9" fill="#871028"/><circle r="3.75" cy="134.0" fill="#881129"/><circle r="3.75" cy="137.1" fill="#8a1129"/><circle r="3.75" cy="140.2" fill="#8b1129"/><circle r="3.75" cy="143.3" fill="#8c1129"/><circle r="3.75" cy="146.5" fill="#8e1129"/><circle r="3.75" cy="149.6" fill="#8f1229"/><circle r="3.75" cy="152.7" fill="#911229"/><circle r="3.75" cy="155.8" fill="#a32026"/><circle r="3.75" cy="158.9" fill="#a32026"/><circle r="3.75" cy="162.0" fill="#a32026"/><circle r="3.75" cy="165.2" fill="#a32126"/><circle r="3.75" cy="168.3" fill="#a42126"/></g>
</g>
<rect x="325.5" y="522.5" width="465" height="23" fill="url(#th)"/>
<rect x="1038.5" y="522.5" width="458" height="22" fill="url(#ba)"/>
<path d="M92 115.5H551M92 448.5H551M92.5 115V449M550.5 115V449M113.5 449V454M179.5 449V454M245.5 449V454M311.5 449V454M378.5 449V454M444.5 449V454M510.5 449V454M87 127.5H92M87 184.5H92M87 241.5H92M87 297.5H92M87 354.5H92M87 410.5H92M565 115.5H1024M565 448.5H1024M565.5 115V449M1023.5 115V449M586.5 449V454M652.5 449V454M718.5 449V454M784.5 449V454M851.5 449V454M917.5 449V454M983.5 449V454M560 127.5H565M560 184.5H565M560 241.5H565M560 297.5H565M560 354.5H565M560 410.5H565M1038 115.5H1497M1038 448.5H1497M1038.5 115V449M1496.5 115V449M1059.5 449V454M1125.5 449V454M1191.5 449V454M1257.5 449V454M1324.5 449V454M1390.5 449V454M1456.5 449V454M1033 174.5H1038M1033 236.5H1038M1033 299.5H1038M1033 361.5H1038M1033 423.5H1038M325 522.5H791M325 545.5H791M325.5 522V546M790.5 522V546M378.5 546V551M460.5 546V551M543.5 546V551M625.5 546V551M707.5 546V551M790.5 546V551M1038 522.5H1497M1038 544.5H1497M1038.5 522V545M1496.5 522V545M1096.5 545V550M1181.5 545V550M1267.5 545V550M1352.5 545V550M1437.5 545V550" stroke="#000" stroke-width="1" fill="none" shape-rendering="crispEdges"/>
</svg>
<div class="l"><span class="t b" style="left:253.00px;top:87.15px;transform:scaleX(1.0247)">Observation</span></div>
<div class="l"><span class="t a" style="left:180.00px;top:481.25px;transform:scaleX(1.1118)">along-transect</span> <span class="t a" style="left:328.00px;top:481.25px;transform:scaleX(1.0947)">distance</span> <span class="t a" style="left:416.00px;top:481.25px;transform:scaleX(1.1978)">[km]</span></div>
<div class="l"><span class="t a" style="left:1.07px;top:332.00px;transform:rotate(-90deg) scaleX(1.1520)">Depth [m]</span></div>
<div class="l"><span class="t a" style="left:98.00px;top:456.07px;transform:scaleX(1.0414)">0.0</span></div>
<div class="l"><span class="t a" style="left:164.00px;top:456.07px;transform:scaleX(1.0414)">2.5</span></div>
<div class="l"><span class="t a" style="left:230.00px;top:456.07px;transform:scaleX(1.0800)">5.0</span></div>
<div class="l"><span class="t a" style="left:298.00px;top:456.07px;transform:scaleX(1.0029)">7.5</span></div>
<div class="l"><span class="t a" style="left:356.00px;top:456.07px;transform:scaleX(1.0800)">10.0</span></div>
<div class="l"><span class="t a" style="left:422.00px;top:456.07px;transform:scaleX(1.0800)">12.5</span></div>
<div class="l"><span class="t a" style="left:489.00px;top:456.07px;transform:scaleX(1.0800)">15.0</span></div>
<div class="l"><span class="t a" style="left:70.00px;top:117.07px;transform:scaleX(1.0800)">0</span></div>
<div class="l"><span class="t a" style="left:42.00px;top:174.07px;transform:scaleX(1.1417)">−20</span></div>
<div class="l"><span class="t a" style="left:42.00px;top:230.07px;transform:scaleX(1.1417)">−40</span></div>
<div class="l"><span class="t a" style="left:42.00px;top:287.07px;transform:scaleX(1.1417)">−60</span></div>
<div class="l"><span class="t a" style="left:42.00px;top:344.07px;transform:scaleX(1.1417)">−80</span></div>
<div class="l"><span class="t a" style="left:30.00px;top:400.07px;transform:scaleX(1.1260)">−100</span></div>
<div class="l"><span class="t b" style="left:761.00px;top:87.15px;transform:scaleX(0.8690)">CIOFS</span></div>
<div class="l"><span class="t a" style="left:653.00px;top:481.25px;transform:scaleX(1.1118)">along-transect</span> <span class="t a" style="left:801.00px;top:481.25px;transform:scaleX(1.0947)">distance</span> <span class="t a" style="left:889.00px;top:481.25px;transform:scaleX(1.1978)">[km]</span></div>
<div class="l"><span class="t a" style="left:571.00px;top:456.07px;transform:scaleX(1.0414)">0.0</span></div>
<div class="l"><span class="t a" style="left:637.00px;top:456.07px;transform:scaleX(1.0414)">2.5</span></div>
<div class="l"><span class="t a" style="left:703.00px;top:456.07px;transform:scaleX(1.0800)">5.0</span></div>
<div class="l"><span class="t a" style="left:771.00px;top:456.07px;transform:scaleX(1.0029)">7.5</span></div>
<div class="l"><span class="t a" style="left:829.00px;top:456.07px;transform:scaleX(1.0800)">10.0</span></div>
<div class="l"><span class="t a" style="left:895.00px;top:456.07px;transform:scaleX(1.0800)">12.5</span></div>
<div class="l"><span class="t a" style="left:962.00px;top:456.07px;transform:scaleX(1.0800)">15.0</span></div>
<div class="l"><span class="t b" style="left:1201.00px;top:87.15px;transform:scaleX(0.9596)">Obs</span> <span class="t b" style="left:1251.00px;top:87.15px;transform:scaleX(0.9257)">-</span> <span class="t b" style="left:1267.00px;top:87.15px;transform:scaleX(0.9821)">Model</span></div>
<div class="l"><span class="t a" style="left:1126.00px;top:481.25px;transform:scaleX(1.1118)">along-transect</span> <span class="t a" style="left:1274.00px;top:481.25px;transform:scaleX(1.0947)">distance</span> <span class="t a" style="left:1362.00px;top:481.25px;transform:scaleX(1.1978)">[km]</span></div>
<div class="l"><span class="t a" style="left:1044.00px;top:456.07px;transform:scaleX(1.0414)">0.0</span></div>
<div class="l"><span class="t a" style="left:1110.00px;top:456.07px;transform:scaleX(1.0414)">2.5</span></div>
<div class="l"><span class="t a" style="left:1176.00px;top:456.07px;transform:scaleX(1.0800)">5.0</span></div>
<div class="l"><span class="t a" style="left:1244.00px;top:456.07px;transform:scaleX(1.0029)">7.5</span></div>
<div class="l"><span class="t a" style="left:1302.00px;top:456.07px;transform:scaleX(1.0800)">10.0</span></div>
<div class="l"><span class="t a" style="left:1368.00px;top:456.07px;transform:scaleX(1.0800)">12.5</span></div>
<div class="l"><span class="t a" style="left:1435.00px;top:456.07px;transform:scaleX(1.0800)">15.0</span></div>
<div class="l"><span class="t a" style="left:427.00px;top:577.25px;transform:scaleX(0.9667)">Sea</span> <span class="t a" style="left:470.00px;top:577.25px;transform:scaleX(1.1215)">water</span> <span class="t a" style="left:532.00px;top:577.25px;transform:scaleX(1.1359)">temperature</span> <span class="t a" style="left:661.00px;top:577.25px;transform:scaleX(1.0800)">[C]</span></div>
<div class="l"><span class="t a" style="left:363.00px;top:553.07px;transform:scaleX(1.0800)">9.0</span></div>
<div class="l"><span class="t a" style="left:445.00px;top:553.07px;transform:scaleX(1.0414)">9.5</span></div>
<div class="l"><span class="t a" style="left:521.00px;top:553.07px;transform:scaleX(1.0800)">10.0</span></div>
<div class="l"><span class="t a" style="left:604.00px;top:553.07px;transform:scaleX(1.0800)">10.5</span></div>
<div class="l"><span class="t a" style="left:686.00px;top:553.07px;transform:scaleX(1.1084)">11.0</span></div>
<div class="l"><span class="t a" style="left:768.00px;top:553.07px;transform:scaleX(1.1084)">11.5</span></div>
<div class="l"><span class="t a" style="left:1084.00px;top:577.45px;transform:scaleX(0.9667)">Sea</span> <span class="t a" style="left:1127.00px;top:577.45px;transform:scaleX(1.1215)">water</span> <span class="t a" style="left:1189.00px;top:577.45px;transform:scaleX(1.1359)">temperature</span> <span class="t a" style="left:1318.00px;top:577.45px;transform:scaleX(1.0800)">[C]</span> <span class="t a" style="left:1352.00px;top:577.45px;transform:scaleX(1.1272)">difference</span></div>
<div class="l"><span class="t a" style="left:1083.00px;top:552.07px;transform:scaleX(1.1311)">−2</span></div>
<div class="l"><span class="t a" style="left:1168.00px;top:552.07px;transform:scaleX(1.1311)">−1</span></div>
<div class="l"><span class="t a" style="left:1261.00px;top:552.07px;transform:scaleX(1.0800)">0</span></div>
<div class="l"><span class="t a" style="left:1346.00px;top:552.07px;transform:scaleX(1.0800)">1</span></div>
<div class="l"><span class="t a" style="left:1432.00px;top:552.07px;transform:scaleX(0.9720)">2</span></div>
<div class="l"><span class="t b" style="left:281.00px;top:2.05px;transform:scaleX(1.0314)">transect_4-2019-09-16:</span> <span class="t b" style="left:549.00px;top:2.05px;transform:scaleX(1.0280)">bias:</span> <span class="t b" style="left:610.00px;top:2.05px;transform:scaleX(1.0035)">-2.3</span>  <span class="t b" style="left:667.00px;top:2.05px;transform:scaleX(1.0580)">corr:</span> <span class="t b" style="left:726.00px;top:2.05px;transform:scaleX(1.0165)">0.5</span>  <span class="t b" style="left:775.00px;top:2.05px;transform:scaleX(1.0516)">ioa:</span> <span class="t b" style="left:823.00px;top:2.05px;transform:scaleX(1.0253)">nan</span>  <span class="t b" style="left:879.00px;top:2.05px;transform:scaleX(1.0181)">mse:</span> <span class="t b" style="left:942.00px;top:2.05px;transform:scaleX(0.9828)">5.2</span>  <span class="t b" style="left:991.00px;top:2.05px;transform:scaleX(0.9696)">ss:</span> <span class="t b" style="left:1029.00px;top:2.05px;transform:scaleX(1.0235)">-48.6</span>  <span class="t b" style="left:1100.00px;top:2.05px;transform:scaleX(1.0443)">rmse:</span> <span class="t b" style="left:1171.00px;top:2.05px;transform:scaleX(1.0165)">2.3</span></div>
<div class="l"><span class="t b" style="left:558.00px;top:29.05px;transform:scaleX(1.0302)">2019-09-16</span> <span class="t b" style="left:694.00px;top:29.05px;transform:scaleX(1.0516)">lon:</span> <span class="t b" style="left:742.00px;top:29.05px;transform:scaleX(1.0298)">-151.65</span> <span class="t b" style="left:835.00px;top:29.05px;transform:scaleX(1.1148)">lat:</span> <span class="t b" style="left:879.00px;top:29.05px;transform:scaleX(1.0288)">59.49</span></div>
<div class="l"><span class="t b" style="left:498.00px;top:55.05px;transform:scaleX(0.9869)">Gwa:</span> <span class="t b" style="left:562.00px;top:55.05px;transform:scaleX(0.9045)">Sea</span> <span class="t b" style="left:611.00px;top:55.05px;transform:scaleX(1.0580)">temperature</span> <span class="t b" style="left:757.00px;top:55.05px;transform:scaleX(1.0440)">[C]</span> <span class="t b" style="left:798.00px;top:55.05px;transform:scaleX(1.0376)">from</span> <span class="t b" style="left:856.00px;top:55.05px;transform:scaleX(0.9251)">CTD</span> <span class="t b" style="left:910.00px;top:55.05px;transform:scaleX(1.0477)">transect</span></div>
</body></html>
